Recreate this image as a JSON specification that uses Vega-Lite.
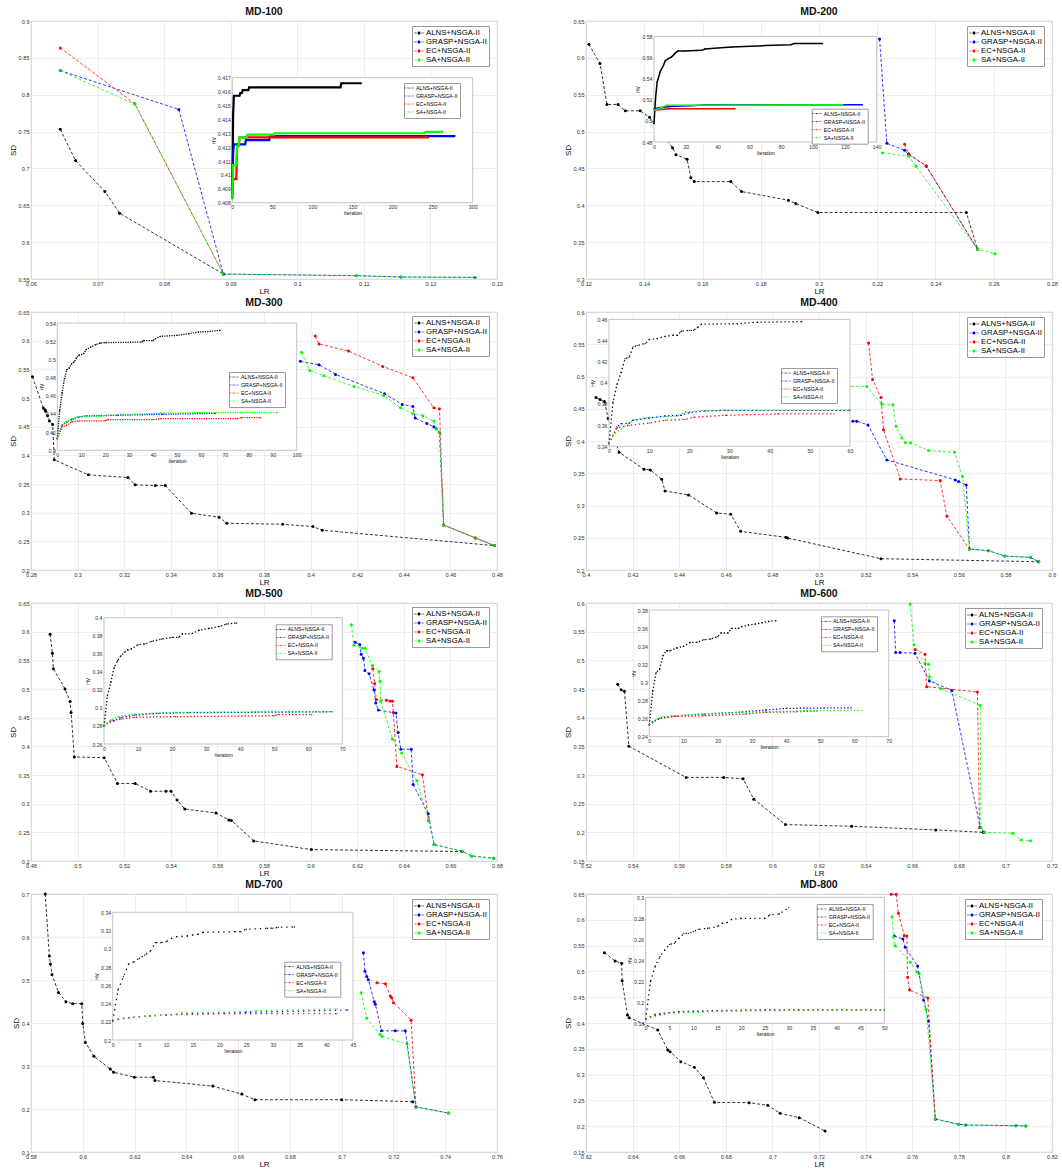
{
  "$schema": "https://vega.github.io/schema/vega-lite/v6.json",
  "padding": {"left": 8, "top": 6, "right": 5, "bottom": 5},
  "background": "#ffffff",
  "columns": 2,
  "spacing": {"row": 33, "column": 89},
  "bounds": "flush",
  "resolve": {"scale": {"color": "independent"}, "legend": {"color": "independent"}},
  "config": {
    "font": "Liberation Sans",
    "view": {"stroke": "#b4b4b4", "strokeWidth": 0.8},
    "axis": {"labelFontSize": 5.6, "labelColor": "#333333", "titleFontSize": 8, "titleFontWeight": "normal", "titleColor": "#111111", "gridColor": "#e2e2e2", "gridWidth": 0.6, "domain": false, "ticks": false, "labelPadding": 2, "titlePadding": 1, "labelFlush": false, "labelOverlap": false},
    "title": {"fontSize": 10.5, "fontWeight": "bold", "offset": 2, "color": "#111111", "frame": "group"},
    "legend": {"labelFontSize": 7.8, "labelColor": "#000000", "symbolType": "M-1,-0.05H-0.45V0.05H-1ZM0.45,-0.05H1V0.05H0.45ZM-0.3,0A0.3,0.3,0,1,1,0.3,0A0.3,0.3,0,1,1,-0.3,0Z", "symbolSize": 100, "symbolStrokeWidth": 0, "symbolOpacity": 1, "padding": 2, "rowPadding": 0, "labelOffset": 2, "strokeColor": "#9a9a9a", "fillColor": "#ffffff"}
  },
  "concat": [
    {
      "title": "MD-100",
      "width": 466, "height": 258,
      "layer": [
        {
          "data": {"values": [
            {"s": "ALNS+NSGA-II", "LR": 0.0644, "SD": 0.753}, {"s": "ALNS+NSGA-II", "LR": 0.0667, "SD": 0.7106}, {"s": "ALNS+NSGA-II", "LR": 0.0711, "SD": 0.6686}, {"s": "ALNS+NSGA-II", "LR": 0.0733, "SD": 0.6393}, {"s": "ALNS+NSGA-II", "LR": 0.0889, "SD": 0.5567},
            {"s": "GRASP+NSGA-II", "LR": 0.0644, "SD": 0.8328}, {"s": "GRASP+NSGA-II", "LR": 0.0822, "SD": 0.78}, {"s": "GRASP+NSGA-II", "LR": 0.0889, "SD": 0.5567}, {"s": "GRASP+NSGA-II", "LR": 0.1089, "SD": 0.5545}, {"s": "GRASP+NSGA-II", "LR": 0.1156, "SD": 0.5527}, {"s": "GRASP+NSGA-II", "LR": 0.1267, "SD": 0.5522},
            {"s": "EC+NSGA-II", "LR": 0.0644, "SD": 0.8635}, {"s": "EC+NSGA-II", "LR": 0.0756, "SD": 0.7877}, {"s": "EC+NSGA-II", "LR": 0.0889, "SD": 0.5567},
            {"s": "SA+NSGA-II", "LR": 0.0644, "SD": 0.8328}, {"s": "SA+NSGA-II", "LR": 0.0756, "SD": 0.787}, {"s": "SA+NSGA-II", "LR": 0.0889, "SD": 0.5567}, {"s": "SA+NSGA-II", "LR": 0.1089, "SD": 0.5545}, {"s": "SA+NSGA-II", "LR": 0.1156, "SD": 0.5527}, {"s": "SA+NSGA-II", "LR": 0.1267, "SD": 0.5522}
          ]},
          "layer": [
            {"mark": {"type": "point", "filled": true, "size": 9, "opacity": 1},
             "encoding": {
               "x": {"field": "LR", "type": "quantitative", "scale": {"domain": [0.06, 0.13], "nice": false, "zero": false}, "axis": {"orient": "bottom", "title": "LR", "format": "~g", "tickCount": 30, "values": [0.06, 0.07, 0.08, 0.09, 0.1, 0.11, 0.12, 0.13]}},
               "y": {"field": "SD", "type": "quantitative", "scale": {"domain": [0.55, 0.9], "nice": false, "zero": false}, "axis": {"orient": "left", "title": "SD", "format": "~g", "tickCount": 30, "values": [0.55, 0.6, 0.65, 0.7, 0.75, 0.8, 0.85, 0.9]}},
               "color": {"field": "s", "type": "nominal", "scale": {"domain": ["ALNS+NSGA-II", "GRASP+NSGA-II", "EC+NSGA-II", "SA+NSGA-II"], "range": ["#000000", "#0000ff", "#ff0000", "#00ff00"]}, "legend": {"title": null, "orient": "none", "legendX": 381, "legendY": 5, "encode": {"symbols": {"update": {"strokeWidth": {"value": 0}, "opacity": {"value": 1}}}}}}
             }},
            {"mark": {"type": "line", "strokeWidth": 0.8, "strokeDash": [3, 2]},
             "encoding": {
               "x": {"field": "LR", "type": "quantitative"},
               "y": {"field": "SD", "type": "quantitative"},
               "color": {"field": "s", "type": "nominal", "scale": {"domain": ["ALNS+NSGA-II", "GRASP+NSGA-II", "EC+NSGA-II", "SA+NSGA-II"], "range": ["#000000", "#0000ff", "#ff0000", "#00ff00"]}, "legend": {"title": null, "orient": "none", "legendX": 381, "legendY": 5, "encode": {"symbols": {"update": {"strokeWidth": {"value": 0}, "opacity": {"value": 1}}}}}},
               "order": {"value": null}
             }}
          ]
        },
        {
          "layer": [
            {"data": {"values": [{}]}, "mark": {"type": "rect", "fill": "#ffffff", "stroke": "#b4b4b4", "strokeWidth": 0.8},
             "encoding": {"x": {"datum": 0}, "x2": {"datum": 300}, "y": {"datum": 0.408}, "y2": {"datum": 0.417}}},
            {"data": {"values": [
              {"s": "ALNS+NSGA-II", "it": 0, "HV": 0.4083}, {"s": "ALNS+NSGA-II", "it": 1, "HV": 0.4143}, {"s": "ALNS+NSGA-II", "it": 2, "HV": 0.4157}, {"s": "ALNS+NSGA-II", "it": 9, "HV": 0.4157}, {"s": "ALNS+NSGA-II", "it": 10, "HV": 0.4159}, {"s": "ALNS+NSGA-II", "it": 12, "HV": 0.4159}, {"s": "ALNS+NSGA-II", "it": 13, "HV": 0.4161}, {"s": "ALNS+NSGA-II", "it": 20, "HV": 0.4161}, {"s": "ALNS+NSGA-II", "it": 21, "HV": 0.4163}, {"s": "ALNS+NSGA-II", "it": 135, "HV": 0.4163}, {"s": "ALNS+NSGA-II", "it": 136, "HV": 0.4166}, {"s": "ALNS+NSGA-II", "it": 161, "HV": 0.4166},
              {"s": "GRASP+NSGA-II", "it": 0, "HV": 0.4091}, {"s": "GRASP+NSGA-II", "it": 1, "HV": 0.4116}, {"s": "GRASP+NSGA-II", "it": 2, "HV": 0.4122}, {"s": "GRASP+NSGA-II", "it": 16, "HV": 0.4122}, {"s": "GRASP+NSGA-II", "it": 17, "HV": 0.4125}, {"s": "GRASP+NSGA-II", "it": 46, "HV": 0.4125}, {"s": "GRASP+NSGA-II", "it": 47, "HV": 0.4128}, {"s": "GRASP+NSGA-II", "it": 278, "HV": 0.4128},
              {"s": "EC+NSGA-II", "it": 0, "HV": 0.4089}, {"s": "EC+NSGA-II", "it": 1, "HV": 0.4097}, {"s": "EC+NSGA-II", "it": 5, "HV": 0.4097}, {"s": "EC+NSGA-II", "it": 6, "HV": 0.4121}, {"s": "EC+NSGA-II", "it": 8, "HV": 0.4121}, {"s": "EC+NSGA-II", "it": 9, "HV": 0.4127}, {"s": "EC+NSGA-II", "it": 245, "HV": 0.4127},
              {"s": "SA+NSGA-II", "it": 0, "HV": 0.4083}, {"s": "SA+NSGA-II", "it": 1, "HV": 0.4107}, {"s": "SA+NSGA-II", "it": 5, "HV": 0.4107}, {"s": "SA+NSGA-II", "it": 6, "HV": 0.4121}, {"s": "SA+NSGA-II", "it": 8, "HV": 0.4121}, {"s": "SA+NSGA-II", "it": 9, "HV": 0.4127}, {"s": "SA+NSGA-II", "it": 18, "HV": 0.4127}, {"s": "SA+NSGA-II", "it": 19, "HV": 0.4129}, {"s": "SA+NSGA-II", "it": 52, "HV": 0.4129}, {"s": "SA+NSGA-II", "it": 53, "HV": 0.413}, {"s": "SA+NSGA-II", "it": 240, "HV": 0.413}, {"s": "SA+NSGA-II", "it": 241, "HV": 0.4131}, {"s": "SA+NSGA-II", "it": 263, "HV": 0.4131}
            ]},
             "layer": [
               {"mark": {"type": "point", "filled": true, "size": 1.8, "opacity": 1},
                "encoding": {
                  "x": {"field": "it", "type": "quantitative", "scale": {"domain": [0, 300], "range": [201.3, 441.7], "nice": false, "zero": false}, "axis": {"orient": "bottom", "offset": -76.3, "title": "Iteration", "tickCount": 30, "values": [0, 50, 100, 150, 200, 250, 300], "labelFontSize": 5.2, "titleFontSize": 5, "titlePadding": 1, "gridColor": "#d6d6d6", "zindex": 1}},
                  "y": {"field": "HV", "type": "quantitative", "scale": {"domain": [0.408, 0.417], "range": [181.7, 56.7], "nice": false, "zero": false}, "axis": {"orient": "left", "offset": -201.3, "title": "HV", "format": "~g", "tickCount": 30, "values": [0.408, 0.409, 0.41, 0.411, 0.412, 0.413, 0.414, 0.415, 0.416, 0.417], "labelFontSize": 5.2, "titleFontSize": 5, "titlePadding": 1, "gridColor": "#d6d6d6", "zindex": 1}},
                  "color": {"field": "s", "type": "nominal", "scale": {"domain": ["ALNS+NSGA-II", "GRASP+NSGA-II", "EC+NSGA-II", "SA+NSGA-II"], "range": ["#000000", "#0000ff", "#ff0000", "#00ff00"]}, "legend": {"title": null, "orient": "none", "legendX": 373, "legendY": 62, "labelFontSize": 5.3, "symbolSize": 36, "labelOffset": 4, "rowPadding": 1, "symbolType": "M-1.6,-0.07H-0.9V0.07H-1.6ZM-0.6,-0.07H-0.3V0.07H-0.6ZM0.3,-0.07H0.6V0.07H0.3ZM0.9,-0.07H1.6V0.07H0.9ZM-0.2,0A0.2,0.2,0,1,1,0.2,0A0.2,0.2,0,1,1,-0.2,0Z", "encode": {"symbols": {"update": {"strokeWidth": {"value": 0}, "opacity": {"value": 1}}}}}}
                }},
               {"mark": {"type": "line", "strokeWidth": 2.2},
                "encoding": {
                  "x": {"field": "it", "type": "quantitative"},
                  "y": {"field": "HV", "type": "quantitative"},
                  "color": {"field": "s", "type": "nominal", "scale": {"domain": ["ALNS+NSGA-II", "GRASP+NSGA-II", "EC+NSGA-II", "SA+NSGA-II"], "range": ["#000000", "#0000ff", "#ff0000", "#00ff00"]}, "legend": {"title": null, "orient": "none", "legendX": 373, "legendY": 62, "labelFontSize": 5.3, "symbolSize": 36, "labelOffset": 4, "rowPadding": 1, "symbolType": "M-1.6,-0.07H-0.9V0.07H-1.6ZM-0.6,-0.07H-0.3V0.07H-0.6ZM0.3,-0.07H0.6V0.07H0.3ZM0.9,-0.07H1.6V0.07H0.9ZM-0.2,0A0.2,0.2,0,1,1,0.2,0A0.2,0.2,0,1,1,-0.2,0Z", "encode": {"symbols": {"update": {"strokeWidth": {"value": 0}, "opacity": {"value": 1}}}}}}
                }}
             ]}
          ]
        }
      ],
      "resolve": {"scale": {"x": "independent", "y": "independent", "color": "independent"}, "axis": {"x": "independent", "y": "independent"}, "legend": {"color": "independent"}}
    },
    {
      "title": "MD-200",
      "width": 466, "height": 258,
      "layer": [
        {
          "data": {"values": [
            {"s": "ALNS+NSGA-II", "LR": 0.121, "SD": 0.6184}, {"s": "ALNS+NSGA-II", "LR": 0.1248, "SD": 0.5923}, {"s": "ALNS+NSGA-II", "LR": 0.1272, "SD": 0.5368}, {"s": "ALNS+NSGA-II", "LR": 0.131, "SD": 0.5368}, {"s": "ALNS+NSGA-II", "LR": 0.1335, "SD": 0.5282}, {"s": "ALNS+NSGA-II", "LR": 0.1386, "SD": 0.5282}, {"s": "ALNS+NSGA-II", "LR": 0.1418, "SD": 0.5195}, {"s": "ALNS+NSGA-II", "LR": 0.1497, "SD": 0.4781}, {"s": "ALNS+NSGA-II", "LR": 0.1509, "SD": 0.4687}, {"s": "ALNS+NSGA-II", "LR": 0.1547, "SD": 0.4624}, {"s": "ALNS+NSGA-II", "LR": 0.156, "SD": 0.4375}, {"s": "ALNS+NSGA-II", "LR": 0.1572, "SD": 0.4321}, {"s": "ALNS+NSGA-II", "LR": 0.1697, "SD": 0.4321}, {"s": "ALNS+NSGA-II", "LR": 0.1734, "SD": 0.4186}, {"s": "ALNS+NSGA-II", "LR": 0.1895, "SD": 0.4069}, {"s": "ALNS+NSGA-II", "LR": 0.192, "SD": 0.4024}, {"s": "ALNS+NSGA-II", "LR": 0.1996, "SD": 0.3902}, {"s": "ALNS+NSGA-II", "LR": 0.2506, "SD": 0.3902}, {"s": "ALNS+NSGA-II", "LR": 0.2544, "SD": 0.3406},
            {"s": "GRASP+NSGA-II", "LR": 0.2208, "SD": 0.6256}, {"s": "GRASP+NSGA-II", "LR": 0.2233, "SD": 0.484}, {"s": "GRASP+NSGA-II", "LR": 0.2294, "SD": 0.4745}, {"s": "GRASP+NSGA-II", "LR": 0.2308, "SD": 0.4691}, {"s": "GRASP+NSGA-II", "LR": 0.2368, "SD": 0.4533}, {"s": "GRASP+NSGA-II", "LR": 0.2544, "SD": 0.3406},
            {"s": "EC+NSGA-II", "LR": 0.2294, "SD": 0.4827}, {"s": "EC+NSGA-II", "LR": 0.2308, "SD": 0.47}, {"s": "EC+NSGA-II", "LR": 0.2368, "SD": 0.4533}, {"s": "EC+NSGA-II", "LR": 0.2544, "SD": 0.3406},
            {"s": "SA+NSGA-II", "LR": 0.2218, "SD": 0.4714}, {"s": "SA+NSGA-II", "LR": 0.2308, "SD": 0.4664}, {"s": "SA+NSGA-II", "LR": 0.2333, "SD": 0.4529}, {"s": "SA+NSGA-II", "LR": 0.2544, "SD": 0.3406}, {"s": "SA+NSGA-II", "LR": 0.2605, "SD": 0.3342}
          ]},
          "layer": [
            {"mark": {"type": "point", "filled": true, "size": 9, "opacity": 1},
             "encoding": {
               "x": {"field": "LR", "type": "quantitative", "scale": {"domain": [0.12, 0.28], "nice": false, "zero": false}, "axis": {"orient": "bottom", "title": "LR", "format": "~g", "tickCount": 30, "values": [0.12, 0.14, 0.16, 0.18, 0.2, 0.22, 0.24, 0.26, 0.28]}},
               "y": {"field": "SD", "type": "quantitative", "scale": {"domain": [0.3, 0.65], "nice": false, "zero": false}, "axis": {"orient": "left", "title": "SD", "format": "~g", "tickCount": 30, "values": [0.3, 0.35, 0.4, 0.45, 0.5, 0.55, 0.6, 0.65]}},
               "color": {"field": "s", "type": "nominal", "scale": {"domain": ["ALNS+NSGA-II", "GRASP+NSGA-II", "EC+NSGA-II", "SA+NSGA-II"], "range": ["#000000", "#0000ff", "#ff0000", "#00ff00"]}, "legend": {"title": null, "orient": "none", "legendX": 381, "legendY": 5, "encode": {"symbols": {"update": {"strokeWidth": {"value": 0}, "opacity": {"value": 1}}}}}}
             }},
            {"mark": {"type": "line", "strokeWidth": 0.8, "strokeDash": [3, 2]},
             "encoding": {
               "x": {"field": "LR", "type": "quantitative"},
               "y": {"field": "SD", "type": "quantitative"},
               "color": {"field": "s", "type": "nominal", "scale": {"domain": ["ALNS+NSGA-II", "GRASP+NSGA-II", "EC+NSGA-II", "SA+NSGA-II"], "range": ["#000000", "#0000ff", "#ff0000", "#00ff00"]}, "legend": {"title": null, "orient": "none", "legendX": 381, "legendY": 5, "encode": {"symbols": {"update": {"strokeWidth": {"value": 0}, "opacity": {"value": 1}}}}}},
               "order": {"value": null}
             }}
          ]
        },
        {
          "layer": [
            {"data": {"values": [{}]}, "mark": {"type": "rect", "fill": "#ffffff", "stroke": "#b4b4b4", "strokeWidth": 0.8},
             "encoding": {"x": {"datum": 0}, "x2": {"datum": 140}, "y": {"datum": 0.48}, "y2": {"datum": 0.58}}},
            {"data": {"values": [
              {"s": "ALNS+NSGA-II", "it": 0, "HV": 0.4973}, {"s": "ALNS+NSGA-II", "it": 1, "HV": 0.522}, {"s": "ALNS+NSGA-II", "it": 2, "HV": 0.5368}, {"s": "ALNS+NSGA-II", "it": 4, "HV": 0.5469}, {"s": "ALNS+NSGA-II", "it": 6, "HV": 0.5526}, {"s": "ALNS+NSGA-II", "it": 7, "HV": 0.5567}, {"s": "ALNS+NSGA-II", "it": 9, "HV": 0.5589}, {"s": "ALNS+NSGA-II", "it": 11, "HV": 0.5604}, {"s": "ALNS+NSGA-II", "it": 13, "HV": 0.5636}, {"s": "ALNS+NSGA-II", "it": 15, "HV": 0.5661}, {"s": "ALNS+NSGA-II", "it": 19, "HV": 0.5661}, {"s": "ALNS+NSGA-II", "it": 30, "HV": 0.5667}, {"s": "ALNS+NSGA-II", "it": 32, "HV": 0.568}, {"s": "ALNS+NSGA-II", "it": 38, "HV": 0.5686}, {"s": "ALNS+NSGA-II", "it": 49, "HV": 0.5699}, {"s": "ALNS+NSGA-II", "it": 61, "HV": 0.5705}, {"s": "ALNS+NSGA-II", "it": 70, "HV": 0.5712}, {"s": "ALNS+NSGA-II", "it": 86, "HV": 0.5721}, {"s": "ALNS+NSGA-II", "it": 88, "HV": 0.5731}, {"s": "ALNS+NSGA-II", "it": 106, "HV": 0.5731},
              {"s": "GRASP+NSGA-II", "it": 0, "HV": 0.5112}, {"s": "GRASP+NSGA-II", "it": 3, "HV": 0.5125}, {"s": "GRASP+NSGA-II", "it": 7, "HV": 0.5131}, {"s": "GRASP+NSGA-II", "it": 13, "HV": 0.5138}, {"s": "GRASP+NSGA-II", "it": 23, "HV": 0.5144}, {"s": "GRASP+NSGA-II", "it": 34, "HV": 0.5153}, {"s": "GRASP+NSGA-II", "it": 131, "HV": 0.5153},
              {"s": "EC+NSGA-II", "it": 0, "HV": 0.51}, {"s": "EC+NSGA-II", "it": 3, "HV": 0.5105}, {"s": "EC+NSGA-II", "it": 9, "HV": 0.5115}, {"s": "EC+NSGA-II", "it": 51, "HV": 0.5115},
              {"s": "SA+NSGA-II", "it": 0, "HV": 0.51}, {"s": "SA+NSGA-II", "it": 3, "HV": 0.5115}, {"s": "SA+NSGA-II", "it": 8, "HV": 0.5147}, {"s": "SA+NSGA-II", "it": 119, "HV": 0.5153}
            ]},
             "layer": [
               {"mark": {"type": "point", "filled": true, "size": 1.8, "opacity": 1},
                "encoding": {
                  "x": {"field": "it", "type": "quantitative", "scale": {"domain": [0, 140], "range": [68, 290.7], "nice": false, "zero": false}, "axis": {"orient": "bottom", "offset": -137, "title": "Iteration", "tickCount": 30, "values": [0, 20, 40, 60, 80, 100, 120, 140], "labelFontSize": 5.2, "titleFontSize": 5, "titlePadding": 1, "gridColor": "#d6d6d6", "zindex": 1}},
                  "y": {"field": "HV", "type": "quantitative", "scale": {"domain": [0.48, 0.58], "range": [121, 15.3], "nice": false, "zero": false}, "axis": {"orient": "left", "offset": -68, "title": "HV", "format": "~g", "tickCount": 30, "values": [0.48, 0.5, 0.52, 0.54, 0.56, 0.58], "labelFontSize": 5.2, "titleFontSize": 5, "titlePadding": 1, "gridColor": "#d6d6d6", "zindex": 1}},
                  "color": {"field": "s", "type": "nominal", "scale": {"domain": ["ALNS+NSGA-II", "GRASP+NSGA-II", "EC+NSGA-II", "SA+NSGA-II"], "range": ["#000000", "#0000ff", "#ff0000", "#00ff00"]}, "legend": {"title": null, "orient": "none", "legendX": 225.7, "legendY": 87.7, "labelFontSize": 5.3, "symbolSize": 36, "labelOffset": 4, "rowPadding": 1, "symbolType": "M-1.6,-0.07H-0.9V0.07H-1.6ZM-0.6,-0.07H-0.3V0.07H-0.6ZM0.3,-0.07H0.6V0.07H0.3ZM0.9,-0.07H1.6V0.07H0.9ZM-0.2,0A0.2,0.2,0,1,1,0.2,0A0.2,0.2,0,1,1,-0.2,0Z", "encode": {"symbols": {"update": {"strokeWidth": {"value": 0}, "opacity": {"value": 1}}}}}}
                }},
               {"mark": {"type": "line", "strokeWidth": 1.5},
                "encoding": {
                  "x": {"field": "it", "type": "quantitative"},
                  "y": {"field": "HV", "type": "quantitative"},
                  "color": {"field": "s", "type": "nominal", "scale": {"domain": ["ALNS+NSGA-II", "GRASP+NSGA-II", "EC+NSGA-II", "SA+NSGA-II"], "range": ["#000000", "#0000ff", "#ff0000", "#00ff00"]}, "legend": {"title": null, "orient": "none", "legendX": 225.7, "legendY": 87.7, "labelFontSize": 5.3, "symbolSize": 36, "labelOffset": 4, "rowPadding": 1, "symbolType": "M-1.6,-0.07H-0.9V0.07H-1.6ZM-0.6,-0.07H-0.3V0.07H-0.6ZM0.3,-0.07H0.6V0.07H0.3ZM0.9,-0.07H1.6V0.07H0.9ZM-0.2,0A0.2,0.2,0,1,1,0.2,0A0.2,0.2,0,1,1,-0.2,0Z", "encode": {"symbols": {"update": {"strokeWidth": {"value": 0}, "opacity": {"value": 1}}}}}}
                }}
             ]}
          ]
        }
      ],
      "resolve": {"scale": {"x": "independent", "y": "independent", "color": "independent"}, "axis": {"x": "independent", "y": "independent"}, "legend": {"color": "independent"}}
    },
    {
      "title": "MD-300",
      "width": 466, "height": 258,
      "layer": [
        {
          "data": {"values": [
            {"s": "ALNS+NSGA-II", "LR": 0.2806, "SD": 0.5371}, {"s": "ALNS+NSGA-II", "LR": 0.2853, "SD": 0.4824}, {"s": "ALNS+NSGA-II", "LR": 0.286, "SD": 0.4795}, {"s": "ALNS+NSGA-II", "LR": 0.2863, "SD": 0.4771}, {"s": "ALNS+NSGA-II", "LR": 0.2871, "SD": 0.469}, {"s": "ALNS+NSGA-II", "LR": 0.2879, "SD": 0.4597}, {"s": "ALNS+NSGA-II", "LR": 0.2893, "SD": 0.4538}, {"s": "ALNS+NSGA-II", "LR": 0.29, "SD": 0.3921}, {"s": "ALNS+NSGA-II", "LR": 0.3046, "SD": 0.366}, {"s": "ALNS+NSGA-II", "LR": 0.3216, "SD": 0.3613}, {"s": "ALNS+NSGA-II", "LR": 0.3247, "SD": 0.3485}, {"s": "ALNS+NSGA-II", "LR": 0.3334, "SD": 0.3473}, {"s": "ALNS+NSGA-II", "LR": 0.3376, "SD": 0.3473}, {"s": "ALNS+NSGA-II", "LR": 0.3489, "SD": 0.299}, {"s": "ALNS+NSGA-II", "LR": 0.3607, "SD": 0.292}, {"s": "ALNS+NSGA-II", "LR": 0.364, "SD": 0.2816}, {"s": "ALNS+NSGA-II", "LR": 0.388, "SD": 0.2798}, {"s": "ALNS+NSGA-II", "LR": 0.401, "SD": 0.2757}, {"s": "ALNS+NSGA-II", "LR": 0.405, "SD": 0.2693}, {"s": "ALNS+NSGA-II", "LR": 0.4789, "SD": 0.2426},
            {"s": "GRASP+NSGA-II", "LR": 0.3956, "SD": 0.5639}, {"s": "GRASP+NSGA-II", "LR": 0.4036, "SD": 0.558}, {"s": "GRASP+NSGA-II", "LR": 0.4107, "SD": 0.5412}, {"s": "GRASP+NSGA-II", "LR": 0.4317, "SD": 0.5074}, {"s": "GRASP+NSGA-II", "LR": 0.4393, "SD": 0.4888}, {"s": "GRASP+NSGA-II", "LR": 0.4439, "SD": 0.4853}, {"s": "GRASP+NSGA-II", "LR": 0.4449, "SD": 0.4649}, {"s": "GRASP+NSGA-II", "LR": 0.4499, "SD": 0.4556}, {"s": "GRASP+NSGA-II", "LR": 0.4529, "SD": 0.4498}, {"s": "GRASP+NSGA-II", "LR": 0.4539, "SD": 0.4463}, {"s": "GRASP+NSGA-II", "LR": 0.4553, "SD": 0.4399}, {"s": "GRASP+NSGA-II", "LR": 0.4571, "SD": 0.2786}, {"s": "GRASP+NSGA-II", "LR": 0.4707, "SD": 0.2559}, {"s": "GRASP+NSGA-II", "LR": 0.4789, "SD": 0.2426},
            {"s": "EC+NSGA-II", "LR": 0.402, "SD": 0.6081}, {"s": "EC+NSGA-II", "LR": 0.4036, "SD": 0.5941}, {"s": "EC+NSGA-II", "LR": 0.4163, "SD": 0.5819}, {"s": "EC+NSGA-II", "LR": 0.431, "SD": 0.5551}, {"s": "EC+NSGA-II", "LR": 0.4439, "SD": 0.5353}, {"s": "EC+NSGA-II", "LR": 0.4529, "SD": 0.4829}, {"s": "EC+NSGA-II", "LR": 0.4553, "SD": 0.4812}, {"s": "EC+NSGA-II", "LR": 0.4571, "SD": 0.2786}, {"s": "EC+NSGA-II", "LR": 0.4707, "SD": 0.2559}, {"s": "EC+NSGA-II", "LR": 0.4789, "SD": 0.2426},
            {"s": "SA+NSGA-II", "LR": 0.3961, "SD": 0.5796}, {"s": "SA+NSGA-II", "LR": 0.3996, "SD": 0.5481}, {"s": "SA+NSGA-II", "LR": 0.4057, "SD": 0.5388}, {"s": "SA+NSGA-II", "LR": 0.4187, "SD": 0.5202}, {"s": "SA+NSGA-II", "LR": 0.4314, "SD": 0.5045}, {"s": "SA+NSGA-II", "LR": 0.4386, "SD": 0.4829}, {"s": "SA+NSGA-II", "LR": 0.4439, "SD": 0.473}, {"s": "SA+NSGA-II", "LR": 0.4481, "SD": 0.469}, {"s": "SA+NSGA-II", "LR": 0.4529, "SD": 0.4597}, {"s": "SA+NSGA-II", "LR": 0.4539, "SD": 0.4463}, {"s": "SA+NSGA-II", "LR": 0.4553, "SD": 0.4399}, {"s": "SA+NSGA-II", "LR": 0.4571, "SD": 0.2786}, {"s": "SA+NSGA-II", "LR": 0.4707, "SD": 0.2559}, {"s": "SA+NSGA-II", "LR": 0.4789, "SD": 0.2426}
          ]},
          "layer": [
            {"mark": {"type": "point", "filled": true, "size": 9, "opacity": 1},
             "encoding": {
               "x": {"field": "LR", "type": "quantitative", "scale": {"domain": [0.28, 0.48], "nice": false, "zero": false}, "axis": {"orient": "bottom", "title": "LR", "format": "~g", "tickCount": 30, "values": [0.28, 0.3, 0.32, 0.34, 0.36, 0.38, 0.4, 0.42, 0.44, 0.46, 0.48]}},
               "y": {"field": "SD", "type": "quantitative", "scale": {"domain": [0.2, 0.65], "nice": false, "zero": false}, "axis": {"orient": "left", "title": "SD", "format": "~g", "tickCount": 30, "values": [0.2, 0.25, 0.3, 0.35, 0.4, 0.45, 0.5, 0.55, 0.6, 0.65]}},
               "color": {"field": "s", "type": "nominal", "scale": {"domain": ["ALNS+NSGA-II", "GRASP+NSGA-II", "EC+NSGA-II", "SA+NSGA-II"], "range": ["#000000", "#0000ff", "#ff0000", "#00ff00"]}, "legend": {"title": null, "orient": "none", "legendX": 381, "legendY": 4, "encode": {"symbols": {"update": {"strokeWidth": {"value": 0}, "opacity": {"value": 1}}}}}}
             }},
            {"mark": {"type": "line", "strokeWidth": 0.8, "strokeDash": [3, 2]},
             "encoding": {
               "x": {"field": "LR", "type": "quantitative"},
               "y": {"field": "SD", "type": "quantitative"},
               "color": {"field": "s", "type": "nominal", "scale": {"domain": ["ALNS+NSGA-II", "GRASP+NSGA-II", "EC+NSGA-II", "SA+NSGA-II"], "range": ["#000000", "#0000ff", "#ff0000", "#00ff00"]}, "legend": {"title": null, "orient": "none", "legendX": 381, "legendY": 4, "encode": {"symbols": {"update": {"strokeWidth": {"value": 0}, "opacity": {"value": 1}}}}}},
               "order": {"value": null}
             }}
          ]
        },
        {
          "layer": [
            {"data": {"values": [{}]}, "mark": {"type": "rect", "fill": "#ffffff", "stroke": "#b4b4b4", "strokeWidth": 0.8},
             "encoding": {"x": {"datum": 0}, "x2": {"datum": 100}, "y": {"datum": 0.4}, "y2": {"datum": 0.54}}},
            {"data": {"values": [
              {"s": "ALNS+NSGA-II", "it": 0, "HV": 0.4128}, {"s": "ALNS+NSGA-II", "it": 1, "HV": 0.444}, {"s": "ALNS+NSGA-II", "it": 2, "HV": 0.463}, {"s": "ALNS+NSGA-II", "it": 3, "HV": 0.4788}, {"s": "ALNS+NSGA-II", "it": 4, "HV": 0.4887}, {"s": "ALNS+NSGA-II", "it": 5, "HV": 0.4905}, {"s": "ALNS+NSGA-II", "it": 6, "HV": 0.4953}, {"s": "ALNS+NSGA-II", "it": 7, "HV": 0.4971}, {"s": "ALNS+NSGA-II", "it": 8, "HV": 0.5015}, {"s": "ALNS+NSGA-II", "it": 9, "HV": 0.5045}, {"s": "ALNS+NSGA-II", "it": 11, "HV": 0.5063}, {"s": "ALNS+NSGA-II", "it": 12, "HV": 0.5107}, {"s": "ALNS+NSGA-II", "it": 14, "HV": 0.5136}, {"s": "ALNS+NSGA-II", "it": 16, "HV": 0.5162}, {"s": "ALNS+NSGA-II", "it": 18, "HV": 0.518}, {"s": "ALNS+NSGA-II", "it": 20, "HV": 0.5184}, {"s": "ALNS+NSGA-II", "it": 35, "HV": 0.519}, {"s": "ALNS+NSGA-II", "it": 36, "HV": 0.5206}, {"s": "ALNS+NSGA-II", "it": 40, "HV": 0.5206}, {"s": "ALNS+NSGA-II", "it": 41, "HV": 0.5228}, {"s": "ALNS+NSGA-II", "it": 43, "HV": 0.5253}, {"s": "ALNS+NSGA-II", "it": 50, "HV": 0.5264}, {"s": "ALNS+NSGA-II", "it": 55, "HV": 0.5283}, {"s": "ALNS+NSGA-II", "it": 59, "HV": 0.5301}, {"s": "ALNS+NSGA-II", "it": 64, "HV": 0.5308}, {"s": "ALNS+NSGA-II", "it": 68, "HV": 0.5319},
              {"s": "GRASP+NSGA-II", "it": 0, "HV": 0.4128}, {"s": "GRASP+NSGA-II", "it": 2, "HV": 0.4275}, {"s": "GRASP+NSGA-II", "it": 4, "HV": 0.4312}, {"s": "GRASP+NSGA-II", "it": 6, "HV": 0.4337}, {"s": "GRASP+NSGA-II", "it": 9, "HV": 0.4367}, {"s": "GRASP+NSGA-II", "it": 12, "HV": 0.4378}, {"s": "GRASP+NSGA-II", "it": 25, "HV": 0.4385}, {"s": "GRASP+NSGA-II", "it": 44, "HV": 0.4396}, {"s": "GRASP+NSGA-II", "it": 66, "HV": 0.4407},
              {"s": "EC+NSGA-II", "it": 0, "HV": 0.4128}, {"s": "EC+NSGA-II", "it": 2, "HV": 0.4257}, {"s": "EC+NSGA-II", "it": 4, "HV": 0.4275}, {"s": "EC+NSGA-II", "it": 6, "HV": 0.4312}, {"s": "EC+NSGA-II", "it": 9, "HV": 0.4323}, {"s": "EC+NSGA-II", "it": 20, "HV": 0.4323}, {"s": "EC+NSGA-II", "it": 21, "HV": 0.4337}, {"s": "EC+NSGA-II", "it": 40, "HV": 0.4337}, {"s": "EC+NSGA-II", "it": 43, "HV": 0.4348}, {"s": "EC+NSGA-II", "it": 75, "HV": 0.4348}, {"s": "EC+NSGA-II", "it": 77, "HV": 0.4359}, {"s": "EC+NSGA-II", "it": 85, "HV": 0.4359},
              {"s": "SA+NSGA-II", "it": 0, "HV": 0.4128}, {"s": "SA+NSGA-II", "it": 2, "HV": 0.4282}, {"s": "SA+NSGA-II", "it": 4, "HV": 0.4319}, {"s": "SA+NSGA-II", "it": 6, "HV": 0.4348}, {"s": "SA+NSGA-II", "it": 9, "HV": 0.4367}, {"s": "SA+NSGA-II", "it": 18, "HV": 0.4378}, {"s": "SA+NSGA-II", "it": 27, "HV": 0.4392}, {"s": "SA+NSGA-II", "it": 43, "HV": 0.4407}, {"s": "SA+NSGA-II", "it": 60, "HV": 0.4414}, {"s": "SA+NSGA-II", "it": 92, "HV": 0.4414}
            ]},
             "layer": [
               {"mark": {"type": "point", "filled": true, "size": 1.8, "opacity": 1},
                "encoding": {
                  "x": {"field": "it", "type": "quantitative", "scale": {"domain": [0, 100], "range": [26.3, 265.7], "nice": false, "zero": false}, "axis": {"orient": "bottom", "offset": -119.7, "title": "Iteration", "tickCount": 30, "values": [0, 10, 20, 30, 40, 50, 60, 70, 80, 90, 100], "labelFontSize": 5.2, "titleFontSize": 5, "titlePadding": 1, "gridColor": "#d6d6d6", "zindex": 1}},
                  "y": {"field": "HV", "type": "quantitative", "scale": {"domain": [0.4, 0.54], "range": [138.3, 11], "nice": false, "zero": false}, "axis": {"orient": "left", "offset": -26.3, "title": "HV", "format": "~g", "tickCount": 30, "values": [0.4, 0.42, 0.44, 0.46, 0.48, 0.5, 0.52, 0.54], "labelFontSize": 5.2, "titleFontSize": 5, "titlePadding": 1, "gridColor": "#d6d6d6", "zindex": 1}},
                  "color": {"field": "s", "type": "nominal", "scale": {"domain": ["ALNS+NSGA-II", "GRASP+NSGA-II", "EC+NSGA-II", "SA+NSGA-II"], "range": ["#000000", "#0000ff", "#ff0000", "#00ff00"]}, "legend": {"title": null, "orient": "none", "legendX": 198, "legendY": 60, "labelFontSize": 5.3, "symbolSize": 36, "labelOffset": 4, "rowPadding": 1, "symbolType": "M-1.6,-0.07H-0.9V0.07H-1.6ZM-0.6,-0.07H-0.3V0.07H-0.6ZM0.3,-0.07H0.6V0.07H0.3ZM0.9,-0.07H1.6V0.07H0.9ZM-0.2,0A0.2,0.2,0,1,1,0.2,0A0.2,0.2,0,1,1,-0.2,0Z", "encode": {"symbols": {"update": {"strokeWidth": {"value": 0}, "opacity": {"value": 1}}}}}}
                }},
               {"mark": {"type": "line", "strokeWidth": 1.3, "strokeDash": [1.2, 1.2]},
                "encoding": {
                  "x": {"field": "it", "type": "quantitative"},
                  "y": {"field": "HV", "type": "quantitative"},
                  "color": {"field": "s", "type": "nominal", "scale": {"domain": ["ALNS+NSGA-II", "GRASP+NSGA-II", "EC+NSGA-II", "SA+NSGA-II"], "range": ["#000000", "#0000ff", "#ff0000", "#00ff00"]}, "legend": {"title": null, "orient": "none", "legendX": 198, "legendY": 60, "labelFontSize": 5.3, "symbolSize": 36, "labelOffset": 4, "rowPadding": 1, "symbolType": "M-1.6,-0.07H-0.9V0.07H-1.6ZM-0.6,-0.07H-0.3V0.07H-0.6ZM0.3,-0.07H0.6V0.07H0.3ZM0.9,-0.07H1.6V0.07H0.9ZM-0.2,0A0.2,0.2,0,1,1,0.2,0A0.2,0.2,0,1,1,-0.2,0Z", "encode": {"symbols": {"update": {"strokeWidth": {"value": 0}, "opacity": {"value": 1}}}}}}
                }}
             ]}
          ]
        }
      ],
      "resolve": {"scale": {"x": "independent", "y": "independent", "color": "independent"}, "axis": {"x": "independent", "y": "independent"}, "legend": {"color": "independent"}}
    },
    {
      "title": "MD-400",
      "width": 466, "height": 258,
      "layer": [
        {
          "data": {"values": [
            {"s": "ALNS+NSGA-II", "LR": 0.4043, "SD": 0.4675}, {"s": "ALNS+NSGA-II", "LR": 0.406, "SD": 0.4644}, {"s": "ALNS+NSGA-II", "LR": 0.4079, "SD": 0.4613}, {"s": "ALNS+NSGA-II", "LR": 0.4095, "SD": 0.435}, {"s": "ALNS+NSGA-II", "LR": 0.4142, "SD": 0.3826}, {"s": "ALNS+NSGA-II", "LR": 0.4249, "SD": 0.3562}, {"s": "ALNS+NSGA-II", "LR": 0.4276, "SD": 0.3552}, {"s": "ALNS+NSGA-II", "LR": 0.4325, "SD": 0.3407}, {"s": "ALNS+NSGA-II", "LR": 0.4339, "SD": 0.3226}, {"s": "ALNS+NSGA-II", "LR": 0.444, "SD": 0.3164}, {"s": "ALNS+NSGA-II", "LR": 0.4561, "SD": 0.2884}, {"s": "ALNS+NSGA-II", "LR": 0.4621, "SD": 0.2863}, {"s": "ALNS+NSGA-II", "LR": 0.4664, "SD": 0.2599}, {"s": "ALNS+NSGA-II", "LR": 0.4858, "SD": 0.2506}, {"s": "ALNS+NSGA-II", "LR": 0.4865, "SD": 0.2496}, {"s": "ALNS+NSGA-II", "LR": 0.5266, "SD": 0.2175}, {"s": "ALNS+NSGA-II", "LR": 0.5943, "SD": 0.2128},
            {"s": "GRASP+NSGA-II", "LR": 0.5145, "SD": 0.4307}, {"s": "GRASP+NSGA-II", "LR": 0.5162, "SD": 0.4307}, {"s": "GRASP+NSGA-II", "LR": 0.521, "SD": 0.425}, {"s": "GRASP+NSGA-II", "LR": 0.5291, "SD": 0.3707}, {"s": "GRASP+NSGA-II", "LR": 0.5585, "SD": 0.3397}, {"s": "GRASP+NSGA-II", "LR": 0.5599, "SD": 0.3371}, {"s": "GRASP+NSGA-II", "LR": 0.5632, "SD": 0.3319}, {"s": "GRASP+NSGA-II", "LR": 0.5646, "SD": 0.2325}, {"s": "GRASP+NSGA-II", "LR": 0.5728, "SD": 0.2299}, {"s": "GRASP+NSGA-II", "LR": 0.5797, "SD": 0.2216}, {"s": "GRASP+NSGA-II", "LR": 0.5907, "SD": 0.2196}, {"s": "GRASP+NSGA-II", "LR": 0.5943, "SD": 0.2128},
            {"s": "EC+NSGA-II", "LR": 0.5213, "SD": 0.5519}, {"s": "EC+NSGA-II", "LR": 0.523, "SD": 0.4954}, {"s": "EC+NSGA-II", "LR": 0.5266, "SD": 0.4675}, {"s": "EC+NSGA-II", "LR": 0.5277, "SD": 0.4173}, {"s": "EC+NSGA-II", "LR": 0.5349, "SD": 0.3412}, {"s": "EC+NSGA-II", "LR": 0.552, "SD": 0.3386}, {"s": "EC+NSGA-II", "LR": 0.5549, "SD": 0.2832}, {"s": "EC+NSGA-II", "LR": 0.5646, "SD": 0.2325},
            {"s": "SA+NSGA-II", "LR": 0.5072, "SD": 0.4846}, {"s": "SA+NSGA-II", "LR": 0.5205, "SD": 0.4846}, {"s": "SA+NSGA-II", "LR": 0.527, "SD": 0.4571}, {"s": "SA+NSGA-II", "LR": 0.5317, "SD": 0.4561}, {"s": "SA+NSGA-II", "LR": 0.5331, "SD": 0.4225}, {"s": "SA+NSGA-II", "LR": 0.5356, "SD": 0.4049}, {"s": "SA+NSGA-II", "LR": 0.537, "SD": 0.3976}, {"s": "SA+NSGA-II", "LR": 0.5394, "SD": 0.3971}, {"s": "SA+NSGA-II", "LR": 0.547, "SD": 0.3852}, {"s": "SA+NSGA-II", "LR": 0.5582, "SD": 0.3826}, {"s": "SA+NSGA-II", "LR": 0.5616, "SD": 0.3448}, {"s": "SA+NSGA-II", "LR": 0.5646, "SD": 0.2325}, {"s": "SA+NSGA-II", "LR": 0.5728, "SD": 0.2299}, {"s": "SA+NSGA-II", "LR": 0.5797, "SD": 0.2216}, {"s": "SA+NSGA-II", "LR": 0.5907, "SD": 0.2196}, {"s": "SA+NSGA-II", "LR": 0.5943, "SD": 0.2128}
          ]},
          "layer": [
            {"mark": {"type": "point", "filled": true, "size": 9, "opacity": 1},
             "encoding": {
               "x": {"field": "LR", "type": "quantitative", "scale": {"domain": [0.4, 0.6], "nice": false, "zero": false}, "axis": {"orient": "bottom", "title": "LR", "format": "~g", "tickCount": 30, "values": [0.4, 0.42, 0.44, 0.46, 0.48, 0.5, 0.52, 0.54, 0.56, 0.58, 0.6]}},
               "y": {"field": "SD", "type": "quantitative", "scale": {"domain": [0.2, 0.6], "nice": false, "zero": false}, "axis": {"orient": "left", "title": "SD", "format": "~g", "tickCount": 30, "values": [0.2, 0.25, 0.3, 0.35, 0.4, 0.45, 0.5, 0.55, 0.6]}},
               "color": {"field": "s", "type": "nominal", "scale": {"domain": ["ALNS+NSGA-II", "GRASP+NSGA-II", "EC+NSGA-II", "SA+NSGA-II"], "range": ["#000000", "#0000ff", "#ff0000", "#00ff00"]}, "legend": {"title": null, "orient": "none", "legendX": 381, "legendY": 5, "encode": {"symbols": {"update": {"strokeWidth": {"value": 0}, "opacity": {"value": 1}}}}}}
             }},
            {"mark": {"type": "line", "strokeWidth": 0.8, "strokeDash": [3, 2]},
             "encoding": {
               "x": {"field": "LR", "type": "quantitative"},
               "y": {"field": "SD", "type": "quantitative"},
               "color": {"field": "s", "type": "nominal", "scale": {"domain": ["ALNS+NSGA-II", "GRASP+NSGA-II", "EC+NSGA-II", "SA+NSGA-II"], "range": ["#000000", "#0000ff", "#ff0000", "#00ff00"]}, "legend": {"title": null, "orient": "none", "legendX": 381, "legendY": 5, "encode": {"symbols": {"update": {"strokeWidth": {"value": 0}, "opacity": {"value": 1}}}}}},
               "order": {"value": null}
             }}
          ]
        },
        {
          "layer": [
            {"data": {"values": [{}]}, "mark": {"type": "rect", "fill": "#ffffff", "stroke": "#b4b4b4", "strokeWidth": 0.8},
             "encoding": {"x": {"datum": 0}, "x2": {"datum": 60}, "y": {"datum": 0.34}, "y2": {"datum": 0.46}}},
            {"data": {"values": [
              {"s": "ALNS+NSGA-II", "it": 0, "HV": 0.3425}, {"s": "ALNS+NSGA-II", "it": 1, "HV": 0.3819}, {"s": "ALNS+NSGA-II", "it": 2, "HV": 0.3983}, {"s": "ALNS+NSGA-II", "it": 3, "HV": 0.4096}, {"s": "ALNS+NSGA-II", "it": 4, "HV": 0.4228}, {"s": "ALNS+NSGA-II", "it": 5, "HV": 0.4241}, {"s": "ALNS+NSGA-II", "it": 6, "HV": 0.4339}, {"s": "ALNS+NSGA-II", "it": 7, "HV": 0.4354}, {"s": "ALNS+NSGA-II", "it": 9, "HV": 0.437}, {"s": "ALNS+NSGA-II", "it": 10, "HV": 0.4408}, {"s": "ALNS+NSGA-II", "it": 12, "HV": 0.4417}, {"s": "ALNS+NSGA-II", "it": 14, "HV": 0.4439}, {"s": "ALNS+NSGA-II", "it": 16, "HV": 0.4449}, {"s": "ALNS+NSGA-II", "it": 17, "HV": 0.4449}, {"s": "ALNS+NSGA-II", "it": 18, "HV": 0.4487}, {"s": "ALNS+NSGA-II", "it": 20, "HV": 0.4496}, {"s": "ALNS+NSGA-II", "it": 21, "HV": 0.4496}, {"s": "ALNS+NSGA-II", "it": 22, "HV": 0.4521}, {"s": "ALNS+NSGA-II", "it": 23, "HV": 0.4553}, {"s": "ALNS+NSGA-II", "it": 32, "HV": 0.4559}, {"s": "ALNS+NSGA-II", "it": 37, "HV": 0.4572}, {"s": "ALNS+NSGA-II", "it": 48, "HV": 0.4578},
              {"s": "GRASP+NSGA-II", "it": 0, "HV": 0.3425}, {"s": "GRASP+NSGA-II", "it": 2, "HV": 0.3583}, {"s": "GRASP+NSGA-II", "it": 3, "HV": 0.3614}, {"s": "GRASP+NSGA-II", "it": 5, "HV": 0.3617}, {"s": "GRASP+NSGA-II", "it": 6, "HV": 0.3646}, {"s": "GRASP+NSGA-II", "it": 10, "HV": 0.3668}, {"s": "GRASP+NSGA-II", "it": 14, "HV": 0.3687}, {"s": "GRASP+NSGA-II", "it": 18, "HV": 0.3693}, {"s": "GRASP+NSGA-II", "it": 20, "HV": 0.3718}, {"s": "GRASP+NSGA-II", "it": 24, "HV": 0.3734}, {"s": "GRASP+NSGA-II", "it": 29, "HV": 0.374}, {"s": "GRASP+NSGA-II", "it": 60, "HV": 0.374},
              {"s": "EC+NSGA-II", "it": 0, "HV": 0.3425}, {"s": "EC+NSGA-II", "it": 2, "HV": 0.3576}, {"s": "EC+NSGA-II", "it": 5, "HV": 0.3598}, {"s": "EC+NSGA-II", "it": 10, "HV": 0.362}, {"s": "EC+NSGA-II", "it": 14, "HV": 0.3646}, {"s": "EC+NSGA-II", "it": 19, "HV": 0.3655}, {"s": "EC+NSGA-II", "it": 21, "HV": 0.3674}, {"s": "EC+NSGA-II", "it": 29, "HV": 0.3693}, {"s": "EC+NSGA-II", "it": 42, "HV": 0.3706}, {"s": "EC+NSGA-II", "it": 56, "HV": 0.3706},
              {"s": "SA+NSGA-II", "it": 0, "HV": 0.3425}, {"s": "SA+NSGA-II", "it": 1, "HV": 0.351}, {"s": "SA+NSGA-II", "it": 3, "HV": 0.3564}, {"s": "SA+NSGA-II", "it": 6, "HV": 0.3646}, {"s": "SA+NSGA-II", "it": 9, "HV": 0.3668}, {"s": "SA+NSGA-II", "it": 17, "HV": 0.3687}, {"s": "SA+NSGA-II", "it": 19, "HV": 0.3724}, {"s": "SA+NSGA-II", "it": 23, "HV": 0.374}, {"s": "SA+NSGA-II", "it": 60, "HV": 0.3743}
            ]},
             "layer": [
               {"mark": {"type": "point", "filled": true, "size": 1.8, "opacity": 1},
                "encoding": {
                  "x": {"field": "it", "type": "quantitative", "scale": {"domain": [0, 60], "range": [23, 264], "nice": false, "zero": false}, "axis": {"orient": "bottom", "offset": -123.7, "title": "Iteration", "tickCount": 30, "values": [0, 10, 20, 30, 40, 50, 60], "labelFontSize": 5.2, "titleFontSize": 5, "titlePadding": 1, "gridColor": "#d6d6d6", "zindex": 1}},
                  "y": {"field": "HV", "type": "quantitative", "scale": {"domain": [0.34, 0.46], "range": [134.3, 7.3], "nice": false, "zero": false}, "axis": {"orient": "left", "offset": -23, "title": "HV", "format": "~g", "tickCount": 30, "values": [0.34, 0.36, 0.38, 0.4, 0.42, 0.44, 0.46], "labelFontSize": 5.2, "titleFontSize": 5, "titlePadding": 1, "gridColor": "#d6d6d6", "zindex": 1}},
                  "color": {"field": "s", "type": "nominal", "scale": {"domain": ["ALNS+NSGA-II", "GRASP+NSGA-II", "EC+NSGA-II", "SA+NSGA-II"], "range": ["#000000", "#0000ff", "#ff0000", "#00ff00"]}, "legend": {"title": null, "orient": "none", "legendX": 195, "legendY": 56, "labelFontSize": 5.3, "symbolSize": 36, "labelOffset": 4, "rowPadding": 1, "symbolType": "M-1.6,-0.07H-0.9V0.07H-1.6ZM-0.6,-0.07H-0.3V0.07H-0.6ZM0.3,-0.07H0.6V0.07H0.3ZM0.9,-0.07H1.6V0.07H0.9ZM-0.2,0A0.2,0.2,0,1,1,0.2,0A0.2,0.2,0,1,1,-0.2,0Z", "encode": {"symbols": {"update": {"strokeWidth": {"value": 0}, "opacity": {"value": 1}}}}}}
                }},
               {"mark": {"type": "line", "strokeWidth": 1.3, "strokeDash": [1.3, 2.7]},
                "encoding": {
                  "x": {"field": "it", "type": "quantitative"},
                  "y": {"field": "HV", "type": "quantitative"},
                  "color": {"field": "s", "type": "nominal", "scale": {"domain": ["ALNS+NSGA-II", "GRASP+NSGA-II", "EC+NSGA-II", "SA+NSGA-II"], "range": ["#000000", "#0000ff", "#ff0000", "#00ff00"]}, "legend": {"title": null, "orient": "none", "legendX": 195, "legendY": 56, "labelFontSize": 5.3, "symbolSize": 36, "labelOffset": 4, "rowPadding": 1, "symbolType": "M-1.6,-0.07H-0.9V0.07H-1.6ZM-0.6,-0.07H-0.3V0.07H-0.6ZM0.3,-0.07H0.6V0.07H0.3ZM0.9,-0.07H1.6V0.07H0.9ZM-0.2,0A0.2,0.2,0,1,1,0.2,0A0.2,0.2,0,1,1,-0.2,0Z", "encode": {"symbols": {"update": {"strokeWidth": {"value": 0}, "opacity": {"value": 1}}}}}}
                }}
             ]}
          ]
        }
      ],
      "resolve": {"scale": {"x": "independent", "y": "independent", "color": "independent"}, "axis": {"x": "independent", "y": "independent"}, "legend": {"color": "independent"}}
    },
    {
      "title": "MD-500",
      "width": 466, "height": 258,
      "layer": [
        {
          "data": {"values": [
            {"s": "ALNS+NSGA-II", "LR": 0.4882, "SD": 0.5956}, {"s": "ALNS+NSGA-II", "LR": 0.4892, "SD": 0.5622}, {"s": "ALNS+NSGA-II", "LR": 0.4896, "SD": 0.5353}, {"s": "ALNS+NSGA-II", "LR": 0.4946, "SD": 0.5002}, {"s": "ALNS+NSGA-II", "LR": 0.4968, "SD": 0.478}, {"s": "ALNS+NSGA-II", "LR": 0.4972, "SD": 0.4592}, {"s": "ALNS+NSGA-II", "LR": 0.4986, "SD": 0.3814}, {"s": "ALNS+NSGA-II", "LR": 0.5114, "SD": 0.3803}, {"s": "ALNS+NSGA-II", "LR": 0.5171, "SD": 0.3352}, {"s": "ALNS+NSGA-II", "LR": 0.5247, "SD": 0.3352}, {"s": "ALNS+NSGA-II", "LR": 0.5313, "SD": 0.3217}, {"s": "ALNS+NSGA-II", "LR": 0.5379, "SD": 0.3217}, {"s": "ALNS+NSGA-II", "LR": 0.5401, "SD": 0.3217}, {"s": "ALNS+NSGA-II", "LR": 0.5427, "SD": 0.3065}, {"s": "ALNS+NSGA-II", "LR": 0.546, "SD": 0.2907}, {"s": "ALNS+NSGA-II", "LR": 0.5594, "SD": 0.2837}, {"s": "ALNS+NSGA-II", "LR": 0.5649, "SD": 0.2714}, {"s": "ALNS+NSGA-II", "LR": 0.566, "SD": 0.2708}, {"s": "ALNS+NSGA-II", "LR": 0.5756, "SD": 0.2351}, {"s": "ALNS+NSGA-II", "LR": 0.6003, "SD": 0.2199}, {"s": "ALNS+NSGA-II", "LR": 0.665, "SD": 0.2165},
            {"s": "GRASP+NSGA-II", "LR": 0.6191, "SD": 0.5815}, {"s": "GRASP+NSGA-II", "LR": 0.6211, "SD": 0.5774}, {"s": "GRASP+NSGA-II", "LR": 0.6217, "SD": 0.5605}, {"s": "GRASP+NSGA-II", "LR": 0.6227, "SD": 0.5535}, {"s": "GRASP+NSGA-II", "LR": 0.6233, "SD": 0.5324}, {"s": "GRASP+NSGA-II", "LR": 0.6251, "SD": 0.5265}, {"s": "GRASP+NSGA-II", "LR": 0.6272, "SD": 0.4985}, {"s": "GRASP+NSGA-II", "LR": 0.628, "SD": 0.4756}, {"s": "GRASP+NSGA-II", "LR": 0.6291, "SD": 0.4633}, {"s": "GRASP+NSGA-II", "LR": 0.6366, "SD": 0.4581}, {"s": "GRASP+NSGA-II", "LR": 0.6376, "SD": 0.4241}, {"s": "GRASP+NSGA-II", "LR": 0.6387, "SD": 0.3949}, {"s": "GRASP+NSGA-II", "LR": 0.6432, "SD": 0.3949}, {"s": "GRASP+NSGA-II", "LR": 0.644, "SD": 0.3334}, {"s": "GRASP+NSGA-II", "LR": 0.6505, "SD": 0.2825}, {"s": "GRASP+NSGA-II", "LR": 0.653, "SD": 0.2287}, {"s": "GRASP+NSGA-II", "LR": 0.665, "SD": 0.217}, {"s": "GRASP+NSGA-II", "LR": 0.6691, "SD": 0.2088}, {"s": "GRASP+NSGA-II", "LR": 0.6786, "SD": 0.2047},
            {"s": "EC+NSGA-II", "LR": 0.6267, "SD": 0.5353}, {"s": "EC+NSGA-II", "LR": 0.6275, "SD": 0.5096}, {"s": "EC+NSGA-II", "LR": 0.6282, "SD": 0.4815}, {"s": "EC+NSGA-II", "LR": 0.6325, "SD": 0.4803}, {"s": "EC+NSGA-II", "LR": 0.634, "SD": 0.4791}, {"s": "EC+NSGA-II", "LR": 0.6351, "SD": 0.4786}, {"s": "EC+NSGA-II", "LR": 0.6355, "SD": 0.4592}, {"s": "EC+NSGA-II", "LR": 0.637, "SD": 0.365}, {"s": "EC+NSGA-II", "LR": 0.648, "SD": 0.3504}, {"s": "EC+NSGA-II", "LR": 0.6506, "SD": 0.2708},
            {"s": "SA+NSGA-II", "LR": 0.6175, "SD": 0.612}, {"s": "SA+NSGA-II", "LR": 0.6186, "SD": 0.5763}, {"s": "SA+NSGA-II", "LR": 0.6222, "SD": 0.571}, {"s": "SA+NSGA-II", "LR": 0.6234, "SD": 0.571}, {"s": "SA+NSGA-II", "LR": 0.6265, "SD": 0.5412}, {"s": "SA+NSGA-II", "LR": 0.6294, "SD": 0.5306}, {"s": "SA+NSGA-II", "LR": 0.6298, "SD": 0.5137}, {"s": "SA+NSGA-II", "LR": 0.6301, "SD": 0.478}, {"s": "SA+NSGA-II", "LR": 0.6351, "SD": 0.413}, {"s": "SA+NSGA-II", "LR": 0.6391, "SD": 0.3884}, {"s": "SA+NSGA-II", "LR": 0.6456, "SD": 0.3399}, {"s": "SA+NSGA-II", "LR": 0.6506, "SD": 0.2708}, {"s": "SA+NSGA-II", "LR": 0.653, "SD": 0.2287}, {"s": "SA+NSGA-II", "LR": 0.665, "SD": 0.217}, {"s": "SA+NSGA-II", "LR": 0.6691, "SD": 0.2088}, {"s": "SA+NSGA-II", "LR": 0.6786, "SD": 0.2047}
          ]},
          "layer": [
            {"mark": {"type": "point", "filled": true, "size": 9, "opacity": 1},
             "encoding": {
               "x": {"field": "LR", "type": "quantitative", "scale": {"domain": [0.48, 0.68], "nice": false, "zero": false}, "axis": {"orient": "bottom", "title": "LR", "format": "~g", "tickCount": 30, "values": [0.48, 0.5, 0.52, 0.54, 0.56, 0.58, 0.6, 0.62, 0.64, 0.66, 0.68]}},
               "y": {"field": "SD", "type": "quantitative", "scale": {"domain": [0.2, 0.65], "nice": false, "zero": false}, "axis": {"orient": "left", "title": "SD", "format": "~g", "tickCount": 30, "values": [0.2, 0.25, 0.3, 0.35, 0.4, 0.45, 0.5, 0.55, 0.6, 0.65]}},
               "color": {"field": "s", "type": "nominal", "scale": {"domain": ["ALNS+NSGA-II", "GRASP+NSGA-II", "EC+NSGA-II", "SA+NSGA-II"], "range": ["#000000", "#0000ff", "#ff0000", "#00ff00"]}, "legend": {"title": null, "orient": "none", "legendX": 381, "legendY": 4, "encode": {"symbols": {"update": {"strokeWidth": {"value": 0}, "opacity": {"value": 1}}}}}}
             }},
            {"mark": {"type": "line", "strokeWidth": 0.8, "strokeDash": [3, 2]},
             "encoding": {
               "x": {"field": "LR", "type": "quantitative"},
               "y": {"field": "SD", "type": "quantitative"},
               "color": {"field": "s", "type": "nominal", "scale": {"domain": ["ALNS+NSGA-II", "GRASP+NSGA-II", "EC+NSGA-II", "SA+NSGA-II"], "range": ["#000000", "#0000ff", "#ff0000", "#00ff00"]}, "legend": {"title": null, "orient": "none", "legendX": 381, "legendY": 4, "encode": {"symbols": {"update": {"strokeWidth": {"value": 0}, "opacity": {"value": 1}}}}}},
               "order": {"value": null}
             }}
          ]
        },
        {
          "layer": [
            {"data": {"values": [{}]}, "mark": {"type": "rect", "fill": "#ffffff", "stroke": "#b4b4b4", "strokeWidth": 0.8},
             "encoding": {"x": {"datum": 0}, "x2": {"datum": 70}, "y": {"datum": 0.26}, "y2": {"datum": 0.4}}},
            {"data": {"values": [
              {"s": "ALNS+NSGA-II", "it": 0, "HV": 0.28}, {"s": "ALNS+NSGA-II", "it": 1, "HV": 0.3136}, {"s": "ALNS+NSGA-II", "it": 2, "HV": 0.3283}, {"s": "ALNS+NSGA-II", "it": 3, "HV": 0.345}, {"s": "ALNS+NSGA-II", "it": 4, "HV": 0.3523}, {"s": "ALNS+NSGA-II", "it": 5, "HV": 0.3579}, {"s": "ALNS+NSGA-II", "it": 6, "HV": 0.3616}, {"s": "ALNS+NSGA-II", "it": 7, "HV": 0.3642}, {"s": "ALNS+NSGA-II", "it": 8, "HV": 0.3653}, {"s": "ALNS+NSGA-II", "it": 10, "HV": 0.3701}, {"s": "ALNS+NSGA-II", "it": 12, "HV": 0.3708}, {"s": "ALNS+NSGA-II", "it": 14, "HV": 0.3738}, {"s": "ALNS+NSGA-II", "it": 17, "HV": 0.3764}, {"s": "ALNS+NSGA-II", "it": 20, "HV": 0.3782}, {"s": "ALNS+NSGA-II", "it": 22, "HV": 0.3782}, {"s": "ALNS+NSGA-II", "it": 23, "HV": 0.3819}, {"s": "ALNS+NSGA-II", "it": 26, "HV": 0.3826}, {"s": "ALNS+NSGA-II", "it": 28, "HV": 0.3863}, {"s": "ALNS+NSGA-II", "it": 31, "HV": 0.3882}, {"s": "ALNS+NSGA-II", "it": 34, "HV": 0.3904}, {"s": "ALNS+NSGA-II", "it": 36, "HV": 0.393}, {"s": "ALNS+NSGA-II", "it": 39, "HV": 0.3941},
              {"s": "GRASP+NSGA-II", "it": 0, "HV": 0.28}, {"s": "GRASP+NSGA-II", "it": 1, "HV": 0.2829}, {"s": "GRASP+NSGA-II", "it": 3, "HV": 0.2859}, {"s": "GRASP+NSGA-II", "it": 5, "HV": 0.2896}, {"s": "GRASP+NSGA-II", "it": 9, "HV": 0.2921}, {"s": "GRASP+NSGA-II", "it": 16, "HV": 0.294}, {"s": "GRASP+NSGA-II", "it": 25, "HV": 0.2947}, {"s": "GRASP+NSGA-II", "it": 67, "HV": 0.2958},
              {"s": "EC+NSGA-II", "it": 0, "HV": 0.28}, {"s": "EC+NSGA-II", "it": 2, "HV": 0.2859}, {"s": "EC+NSGA-II", "it": 5, "HV": 0.2877}, {"s": "EC+NSGA-II", "it": 9, "HV": 0.2896}, {"s": "EC+NSGA-II", "it": 21, "HV": 0.2903}, {"s": "EC+NSGA-II", "it": 50, "HV": 0.2914}, {"s": "EC+NSGA-II", "it": 51, "HV": 0.2925}, {"s": "EC+NSGA-II", "it": 61, "HV": 0.2925},
              {"s": "SA+NSGA-II", "it": 0, "HV": 0.28}, {"s": "SA+NSGA-II", "it": 2, "HV": 0.2866}, {"s": "SA+NSGA-II", "it": 4, "HV": 0.2903}, {"s": "SA+NSGA-II", "it": 9, "HV": 0.2932}, {"s": "SA+NSGA-II", "it": 14, "HV": 0.294}, {"s": "SA+NSGA-II", "it": 21, "HV": 0.2951}, {"s": "SA+NSGA-II", "it": 67, "HV": 0.2958}
            ]},
             "layer": [
               {"mark": {"type": "point", "filled": true, "size": 1.8, "opacity": 1},
                "encoding": {
                  "x": {"field": "it", "type": "quantitative", "scale": {"domain": [0, 70], "range": [73, 311.3], "nice": false, "zero": false}, "axis": {"orient": "bottom", "offset": -117, "title": "Iteration", "tickCount": 30, "values": [0, 10, 20, 30, 40, 50, 60, 70], "labelFontSize": 5.2, "titleFontSize": 5, "titlePadding": 1, "gridColor": "#d6d6d6", "zindex": 1}},
                  "y": {"field": "HV", "type": "quantitative", "scale": {"domain": [0.26, 0.4], "range": [141, 14.7], "nice": false, "zero": false}, "axis": {"orient": "left", "offset": -73, "title": "HV", "format": "~g", "tickCount": 30, "values": [0.26, 0.28, 0.3, 0.32, 0.34, 0.36, 0.38, 0.4], "labelFontSize": 5.2, "titleFontSize": 5, "titlePadding": 1, "gridColor": "#d6d6d6", "zindex": 1}},
                  "color": {"field": "s", "type": "nominal", "scale": {"domain": ["ALNS+NSGA-II", "GRASP+NSGA-II", "EC+NSGA-II", "SA+NSGA-II"], "range": ["#000000", "#0000ff", "#ff0000", "#00ff00"]}, "legend": {"title": null, "orient": "none", "legendX": 244.7, "legendY": 21.3, "labelFontSize": 5.3, "symbolSize": 36, "labelOffset": 4, "rowPadding": 1, "symbolType": "M-1.6,-0.07H-0.9V0.07H-1.6ZM-0.6,-0.07H-0.3V0.07H-0.6ZM0.3,-0.07H0.6V0.07H0.3ZM0.9,-0.07H1.6V0.07H0.9ZM-0.2,0A0.2,0.2,0,1,1,0.2,0A0.2,0.2,0,1,1,-0.2,0Z", "encode": {"symbols": {"update": {"strokeWidth": {"value": 0}, "opacity": {"value": 1}}}}}}
                }},
               {"mark": {"type": "line", "strokeWidth": 1.3, "strokeDash": [1.3, 2.1]},
                "encoding": {
                  "x": {"field": "it", "type": "quantitative"},
                  "y": {"field": "HV", "type": "quantitative"},
                  "color": {"field": "s", "type": "nominal", "scale": {"domain": ["ALNS+NSGA-II", "GRASP+NSGA-II", "EC+NSGA-II", "SA+NSGA-II"], "range": ["#000000", "#0000ff", "#ff0000", "#00ff00"]}, "legend": {"title": null, "orient": "none", "legendX": 244.7, "legendY": 21.3, "labelFontSize": 5.3, "symbolSize": 36, "labelOffset": 4, "rowPadding": 1, "symbolType": "M-1.6,-0.07H-0.9V0.07H-1.6ZM-0.6,-0.07H-0.3V0.07H-0.6ZM0.3,-0.07H0.6V0.07H0.3ZM0.9,-0.07H1.6V0.07H0.9ZM-0.2,0A0.2,0.2,0,1,1,0.2,0A0.2,0.2,0,1,1,-0.2,0Z", "encode": {"symbols": {"update": {"strokeWidth": {"value": 0}, "opacity": {"value": 1}}}}}}
                }}
             ]}
          ]
        }
      ],
      "resolve": {"scale": {"x": "independent", "y": "independent", "color": "independent"}, "axis": {"x": "independent", "y": "independent"}, "legend": {"color": "independent"}}
    },
    {
      "title": "MD-600",
      "width": 466, "height": 258,
      "layer": [
        {
          "data": {"values": [
            {"s": "ALNS+NSGA-II", "LR": 0.5336, "SD": 0.4581}, {"s": "ALNS+NSGA-II", "LR": 0.5351, "SD": 0.4488}, {"s": "ALNS+NSGA-II", "LR": 0.5365, "SD": 0.4459}, {"s": "ALNS+NSGA-II", "LR": 0.5384, "SD": 0.3501}, {"s": "ALNS+NSGA-II", "LR": 0.563, "SD": 0.2958}, {"s": "ALNS+NSGA-II", "LR": 0.5791, "SD": 0.2958}, {"s": "ALNS+NSGA-II", "LR": 0.5874, "SD": 0.2935}, {"s": "ALNS+NSGA-II", "LR": 0.592, "SD": 0.2579}, {"s": "ALNS+NSGA-II", "LR": 0.6056, "SD": 0.2135}, {"s": "ALNS+NSGA-II", "LR": 0.634, "SD": 0.2106}, {"s": "ALNS+NSGA-II", "LR": 0.6701, "SD": 0.2042}, {"s": "ALNS+NSGA-II", "LR": 0.6905, "SD": 0.2},
            {"s": "GRASP+NSGA-II", "LR": 0.6523, "SD": 0.5691}, {"s": "GRASP+NSGA-II", "LR": 0.6529, "SD": 0.5136}, {"s": "GRASP+NSGA-II", "LR": 0.6548, "SD": 0.5136}, {"s": "GRASP+NSGA-II", "LR": 0.6612, "SD": 0.5124}, {"s": "GRASP+NSGA-II", "LR": 0.6674, "SD": 0.464}, {"s": "GRASP+NSGA-II", "LR": 0.677, "SD": 0.4476}, {"s": "GRASP+NSGA-II", "LR": 0.6892, "SD": 0.2083}, {"s": "GRASP+NSGA-II", "LR": 0.691, "SD": 0.2},
            {"s": "EC+NSGA-II", "LR": 0.6612, "SD": 0.5189}, {"s": "EC+NSGA-II", "LR": 0.6655, "SD": 0.5107}, {"s": "EC+NSGA-II", "LR": 0.6662, "SD": 0.4541}, {"s": "EC+NSGA-II", "LR": 0.688, "SD": 0.4447}, {"s": "EC+NSGA-II", "LR": 0.6889, "SD": 0.2083},
            {"s": "SA+NSGA-II", "LR": 0.6591, "SD": 0.5982}, {"s": "SA+NSGA-II", "LR": 0.6608, "SD": 0.527}, {"s": "SA+NSGA-II", "LR": 0.6655, "SD": 0.4943}, {"s": "SA+NSGA-II", "LR": 0.667, "SD": 0.4932}, {"s": "SA+NSGA-II", "LR": 0.6674, "SD": 0.471}, {"s": "SA+NSGA-II", "LR": 0.6724, "SD": 0.4506}, {"s": "SA+NSGA-II", "LR": 0.6892, "SD": 0.4214}, {"s": "SA+NSGA-II", "LR": 0.6895, "SD": 0.2083}, {"s": "SA+NSGA-II", "LR": 0.691, "SD": 0.2}, {"s": "SA+NSGA-II", "LR": 0.7032, "SD": 0.1984}, {"s": "SA+NSGA-II", "LR": 0.7068, "SD": 0.1867}, {"s": "SA+NSGA-II", "LR": 0.7108, "SD": 0.1855}
          ]},
          "layer": [
            {"mark": {"type": "point", "filled": true, "size": 9, "opacity": 1},
             "encoding": {
               "x": {"field": "LR", "type": "quantitative", "scale": {"domain": [0.52, 0.72], "nice": false, "zero": false}, "axis": {"orient": "bottom", "title": "LR", "format": "~g", "tickCount": 30, "values": [0.52, 0.54, 0.56, 0.58, 0.6, 0.62, 0.64, 0.66, 0.68, 0.7, 0.72]}},
               "y": {"field": "SD", "type": "quantitative", "scale": {"domain": [0.15, 0.6], "nice": false, "zero": false}, "axis": {"orient": "left", "title": "SD", "format": "~g", "tickCount": 30, "values": [0.15, 0.2, 0.25, 0.3, 0.35, 0.4, 0.45, 0.5, 0.55, 0.6]}},
               "color": {"field": "s", "type": "nominal", "scale": {"domain": ["ALNS+NSGA-II", "GRASP+NSGA-II", "EC+NSGA-II", "SA+NSGA-II"], "range": ["#000000", "#0000ff", "#ff0000", "#00ff00"]}, "legend": {"title": null, "orient": "none", "legendX": 379, "legendY": 5, "encode": {"symbols": {"update": {"strokeWidth": {"value": 0}, "opacity": {"value": 1}}}}}}
             }},
            {"mark": {"type": "line", "strokeWidth": 0.8, "strokeDash": [3, 2]},
             "encoding": {
               "x": {"field": "LR", "type": "quantitative"},
               "y": {"field": "SD", "type": "quantitative"},
               "color": {"field": "s", "type": "nominal", "scale": {"domain": ["ALNS+NSGA-II", "GRASP+NSGA-II", "EC+NSGA-II", "SA+NSGA-II"], "range": ["#000000", "#0000ff", "#ff0000", "#00ff00"]}, "legend": {"title": null, "orient": "none", "legendX": 379, "legendY": 5, "encode": {"symbols": {"update": {"strokeWidth": {"value": 0}, "opacity": {"value": 1}}}}}},
               "order": {"value": null}
             }}
          ]
        },
        {
          "layer": [
            {"data": {"values": [{}]}, "mark": {"type": "rect", "fill": "#ffffff", "stroke": "#b4b4b4", "strokeWidth": 0.8},
             "encoding": {"x": {"datum": 0}, "x2": {"datum": 70}, "y": {"datum": 0.24}, "y2": {"datum": 0.38}}},
            {"data": {"values": [
              {"s": "ALNS+NSGA-II", "it": 0, "HV": 0.2529}, {"s": "ALNS+NSGA-II", "it": 1, "HV": 0.2901}, {"s": "ALNS+NSGA-II", "it": 2, "HV": 0.3111}, {"s": "ALNS+NSGA-II", "it": 3, "HV": 0.3144}, {"s": "ALNS+NSGA-II", "it": 4, "HV": 0.3295}, {"s": "ALNS+NSGA-II", "it": 5, "HV": 0.335}, {"s": "ALNS+NSGA-II", "it": 6, "HV": 0.335}, {"s": "ALNS+NSGA-II", "it": 8, "HV": 0.338}, {"s": "ALNS+NSGA-II", "it": 10, "HV": 0.3398}, {"s": "ALNS+NSGA-II", "it": 12, "HV": 0.3443}, {"s": "ALNS+NSGA-II", "it": 14, "HV": 0.3443}, {"s": "ALNS+NSGA-II", "it": 16, "HV": 0.3472}, {"s": "ALNS+NSGA-II", "it": 18, "HV": 0.348}, {"s": "ALNS+NSGA-II", "it": 20, "HV": 0.3505}, {"s": "ALNS+NSGA-II", "it": 21, "HV": 0.3546}, {"s": "ALNS+NSGA-II", "it": 23, "HV": 0.3546}, {"s": "ALNS+NSGA-II", "it": 24, "HV": 0.3597}, {"s": "ALNS+NSGA-II", "it": 26, "HV": 0.3597}, {"s": "ALNS+NSGA-II", "it": 27, "HV": 0.3616}, {"s": "ALNS+NSGA-II", "it": 29, "HV": 0.3634}, {"s": "ALNS+NSGA-II", "it": 31, "HV": 0.3645}, {"s": "ALNS+NSGA-II", "it": 33, "HV": 0.366}, {"s": "ALNS+NSGA-II", "it": 35, "HV": 0.3675}, {"s": "ALNS+NSGA-II", "it": 37, "HV": 0.3682},
              {"s": "GRASP+NSGA-II", "it": 0, "HV": 0.2529}, {"s": "GRASP+NSGA-II", "it": 1, "HV": 0.2566}, {"s": "GRASP+NSGA-II", "it": 3, "HV": 0.2602}, {"s": "GRASP+NSGA-II", "it": 7, "HV": 0.2628}, {"s": "GRASP+NSGA-II", "it": 16, "HV": 0.265}, {"s": "GRASP+NSGA-II", "it": 27, "HV": 0.2672}, {"s": "GRASP+NSGA-II", "it": 34, "HV": 0.2695}, {"s": "GRASP+NSGA-II", "it": 40, "HV": 0.2713}, {"s": "GRASP+NSGA-II", "it": 59, "HV": 0.272},
              {"s": "EC+NSGA-II", "it": 0, "HV": 0.2529}, {"s": "EC+NSGA-II", "it": 1, "HV": 0.2555}, {"s": "EC+NSGA-II", "it": 3, "HV": 0.2602}, {"s": "EC+NSGA-II", "it": 8, "HV": 0.2625}, {"s": "EC+NSGA-II", "it": 16, "HV": 0.2632}, {"s": "EC+NSGA-II", "it": 28, "HV": 0.265}, {"s": "EC+NSGA-II", "it": 34, "HV": 0.2669}, {"s": "EC+NSGA-II", "it": 43, "HV": 0.2676}, {"s": "EC+NSGA-II", "it": 49, "HV": 0.2684},
              {"s": "SA+NSGA-II", "it": 0, "HV": 0.2529}, {"s": "SA+NSGA-II", "it": 2, "HV": 0.2595}, {"s": "SA+NSGA-II", "it": 4, "HV": 0.2621}, {"s": "SA+NSGA-II", "it": 14, "HV": 0.2647}, {"s": "SA+NSGA-II", "it": 24, "HV": 0.2665}, {"s": "SA+NSGA-II", "it": 34, "HV": 0.2676}, {"s": "SA+NSGA-II", "it": 46, "HV": 0.2687}, {"s": "SA+NSGA-II", "it": 62, "HV": 0.2691}
            ]},
             "layer": [
               {"mark": {"type": "point", "filled": true, "size": 1.8, "opacity": 1},
                "encoding": {
                  "x": {"field": "it", "type": "quantitative", "scale": {"domain": [0, 70], "range": [63.3, 302.7], "nice": false, "zero": false}, "axis": {"orient": "bottom", "offset": -124.3, "title": "Iteration", "tickCount": 30, "values": [0, 10, 20, 30, 40, 50, 60, 70], "labelFontSize": 5.2, "titleFontSize": 5, "titlePadding": 1, "gridColor": "#d6d6d6", "zindex": 1}},
                  "y": {"field": "HV", "type": "quantitative", "scale": {"domain": [0.24, 0.38], "range": [133.7, 7], "nice": false, "zero": false}, "axis": {"orient": "left", "offset": -63.3, "title": "HV", "format": "~g", "tickCount": 30, "values": [0.24, 0.26, 0.28, 0.3, 0.32, 0.34, 0.36, 0.38], "labelFontSize": 5.2, "titleFontSize": 5, "titlePadding": 1, "gridColor": "#d6d6d6", "zindex": 1}},
                  "color": {"field": "s", "type": "nominal", "scale": {"domain": ["ALNS+NSGA-II", "GRASP+NSGA-II", "EC+NSGA-II", "SA+NSGA-II"], "range": ["#000000", "#0000ff", "#ff0000", "#00ff00"]}, "legend": {"title": null, "orient": "none", "legendX": 235, "legendY": 13.3, "labelFontSize": 5.3, "symbolSize": 36, "labelOffset": 4, "rowPadding": 1, "symbolType": "M-1.6,-0.07H-0.9V0.07H-1.6ZM-0.6,-0.07H-0.3V0.07H-0.6ZM0.3,-0.07H0.6V0.07H0.3ZM0.9,-0.07H1.6V0.07H0.9ZM-0.2,0A0.2,0.2,0,1,1,0.2,0A0.2,0.2,0,1,1,-0.2,0Z", "encode": {"symbols": {"update": {"strokeWidth": {"value": 0}, "opacity": {"value": 1}}}}}}
                }},
               {"mark": {"type": "line", "strokeWidth": 1.3, "strokeDash": [1.3, 2.1]},
                "encoding": {
                  "x": {"field": "it", "type": "quantitative"},
                  "y": {"field": "HV", "type": "quantitative"},
                  "color": {"field": "s", "type": "nominal", "scale": {"domain": ["ALNS+NSGA-II", "GRASP+NSGA-II", "EC+NSGA-II", "SA+NSGA-II"], "range": ["#000000", "#0000ff", "#ff0000", "#00ff00"]}, "legend": {"title": null, "orient": "none", "legendX": 235, "legendY": 13.3, "labelFontSize": 5.3, "symbolSize": 36, "labelOffset": 4, "rowPadding": 1, "symbolType": "M-1.6,-0.07H-0.9V0.07H-1.6ZM-0.6,-0.07H-0.3V0.07H-0.6ZM0.3,-0.07H0.6V0.07H0.3ZM0.9,-0.07H1.6V0.07H0.9ZM-0.2,0A0.2,0.2,0,1,1,0.2,0A0.2,0.2,0,1,1,-0.2,0Z", "encode": {"symbols": {"update": {"strokeWidth": {"value": 0}, "opacity": {"value": 1}}}}}}
                }}
             ]}
          ]
        }
      ],
      "resolve": {"scale": {"x": "independent", "y": "independent", "color": "independent"}, "axis": {"x": "independent", "y": "independent"}, "legend": {"color": "independent"}}
    },
    {
      "title": "MD-700",
      "width": 466, "height": 258,
      "layer": [
        {
          "data": {"values": [
            {"s": "ALNS+NSGA-II", "LR": 0.5855, "SD": 0.7}, {"s": "ALNS+NSGA-II", "LR": 0.5871, "SD": 0.556}, {"s": "ALNS+NSGA-II", "LR": 0.5875, "SD": 0.5374}, {"s": "ALNS+NSGA-II", "LR": 0.5881, "SD": 0.5128}, {"s": "ALNS+NSGA-II", "LR": 0.5906, "SD": 0.4712}, {"s": "ALNS+NSGA-II", "LR": 0.5935, "SD": 0.4496}, {"s": "ALNS+NSGA-II", "LR": 0.5961, "SD": 0.445}, {"s": "ALNS+NSGA-II", "LR": 0.5996, "SD": 0.445}, {"s": "ALNS+NSGA-II", "LR": 0.6, "SD": 0.3988}, {"s": "ALNS+NSGA-II", "LR": 0.601, "SD": 0.3549}, {"s": "ALNS+NSGA-II", "LR": 0.6043, "SD": 0.3225}, {"s": "ALNS+NSGA-II", "LR": 0.6106, "SD": 0.2932}, {"s": "ALNS+NSGA-II", "LR": 0.6119, "SD": 0.2855}, {"s": "ALNS+NSGA-II", "LR": 0.6199, "SD": 0.274}, {"s": "ALNS+NSGA-II", "LR": 0.6273, "SD": 0.274}, {"s": "ALNS+NSGA-II", "LR": 0.6279, "SD": 0.2663}, {"s": "ALNS+NSGA-II", "LR": 0.6502, "SD": 0.2532}, {"s": "ALNS+NSGA-II", "LR": 0.6614, "SD": 0.2347}, {"s": "ALNS+NSGA-II", "LR": 0.6665, "SD": 0.2216}, {"s": "ALNS+NSGA-II", "LR": 0.7, "SD": 0.2216}, {"s": "ALNS+NSGA-II", "LR": 0.7274, "SD": 0.217},
            {"s": "GRASP+NSGA-II", "LR": 0.7084, "SD": 0.5636}, {"s": "GRASP+NSGA-II", "LR": 0.709, "SD": 0.5205}, {"s": "GRASP+NSGA-II", "LR": 0.7097, "SD": 0.5082}, {"s": "GRASP+NSGA-II", "LR": 0.7103, "SD": 0.5005}, {"s": "GRASP+NSGA-II", "LR": 0.7126, "SD": 0.4496}, {"s": "GRASP+NSGA-II", "LR": 0.713, "SD": 0.4435}, {"s": "GRASP+NSGA-II", "LR": 0.7154, "SD": 0.3818}, {"s": "GRASP+NSGA-II", "LR": 0.7207, "SD": 0.3818}, {"s": "GRASP+NSGA-II", "LR": 0.7246, "SD": 0.3818}, {"s": "GRASP+NSGA-II", "LR": 0.7287, "SD": 0.2046}, {"s": "GRASP+NSGA-II", "LR": 0.7412, "SD": 0.1908},
            {"s": "EC+NSGA-II", "LR": 0.7136, "SD": 0.4935}, {"s": "EC+NSGA-II", "LR": 0.7169, "SD": 0.4912}, {"s": "EC+NSGA-II", "LR": 0.7188, "SD": 0.4627}, {"s": "EC+NSGA-II", "LR": 0.7193, "SD": 0.4589}, {"s": "EC+NSGA-II", "LR": 0.72, "SD": 0.4473}, {"s": "EC+NSGA-II", "LR": 0.7268, "SD": 0.4065}, {"s": "EC+NSGA-II", "LR": 0.7287, "SD": 0.2046},
            {"s": "SA+NSGA-II", "LR": 0.7075, "SD": 0.4704}, {"s": "SA+NSGA-II", "LR": 0.7097, "SD": 0.4111}, {"s": "SA+NSGA-II", "LR": 0.7148, "SD": 0.3741}, {"s": "SA+NSGA-II", "LR": 0.7156, "SD": 0.3687}, {"s": "SA+NSGA-II", "LR": 0.7252, "SD": 0.351}, {"s": "SA+NSGA-II", "LR": 0.7287, "SD": 0.2046}, {"s": "SA+NSGA-II", "LR": 0.7412, "SD": 0.1908}
          ]},
          "layer": [
            {"mark": {"type": "point", "filled": true, "size": 9, "opacity": 1},
             "encoding": {
               "x": {"field": "LR", "type": "quantitative", "scale": {"domain": [0.58, 0.76], "nice": false, "zero": false}, "axis": {"orient": "bottom", "title": "LR", "format": "~g", "tickCount": 30, "values": [0.58, 0.6, 0.62, 0.64, 0.66, 0.68, 0.7, 0.72, 0.74, 0.76]}},
               "y": {"field": "SD", "type": "quantitative", "scale": {"domain": [0.1, 0.7], "nice": false, "zero": false}, "axis": {"orient": "left", "title": "SD", "format": "~g", "tickCount": 30, "values": [0.1, 0.2, 0.3, 0.4, 0.5, 0.6, 0.7]}},
               "color": {"field": "s", "type": "nominal", "scale": {"domain": ["ALNS+NSGA-II", "GRASP+NSGA-II", "EC+NSGA-II", "SA+NSGA-II"], "range": ["#000000", "#0000ff", "#ff0000", "#00ff00"]}, "legend": {"title": null, "orient": "none", "legendX": 381, "legendY": 5, "encode": {"symbols": {"update": {"strokeWidth": {"value": 0}, "opacity": {"value": 1}}}}}}
             }},
            {"mark": {"type": "line", "strokeWidth": 0.8, "strokeDash": [3, 2]},
             "encoding": {
               "x": {"field": "LR", "type": "quantitative"},
               "y": {"field": "SD", "type": "quantitative"},
               "color": {"field": "s", "type": "nominal", "scale": {"domain": ["ALNS+NSGA-II", "GRASP+NSGA-II", "EC+NSGA-II", "SA+NSGA-II"], "range": ["#000000", "#0000ff", "#ff0000", "#00ff00"]}, "legend": {"title": null, "orient": "none", "legendX": 381, "legendY": 5, "encode": {"symbols": {"update": {"strokeWidth": {"value": 0}, "opacity": {"value": 1}}}}}},
               "order": {"value": null}
             }}
          ]
        },
        {
          "layer": [
            {"data": {"values": [{}]}, "mark": {"type": "rect", "fill": "#ffffff", "stroke": "#b4b4b4", "strokeWidth": 0.8},
             "encoding": {"x": {"datum": 0}, "x2": {"datum": 45}, "y": {"datum": 0.2}, "y2": {"datum": 0.34}}},
            {"data": {"values": [
              {"s": "ALNS+NSGA-II", "it": 0, "HV": 0.2209}, {"s": "ALNS+NSGA-II", "it": 1, "HV": 0.2548}, {"s": "ALNS+NSGA-II", "it": 2, "HV": 0.2695}, {"s": "ALNS+NSGA-II", "it": 3, "HV": 0.2833}, {"s": "ALNS+NSGA-II", "it": 4, "HV": 0.2859}, {"s": "ALNS+NSGA-II", "it": 5, "HV": 0.2896}, {"s": "ALNS+NSGA-II", "it": 6, "HV": 0.2932}, {"s": "ALNS+NSGA-II", "it": 7, "HV": 0.2969}, {"s": "ALNS+NSGA-II", "it": 8, "HV": 0.3067}, {"s": "ALNS+NSGA-II", "it": 9, "HV": 0.3067}, {"s": "ALNS+NSGA-II", "it": 10, "HV": 0.3078}, {"s": "ALNS+NSGA-II", "it": 11, "HV": 0.3115}, {"s": "ALNS+NSGA-II", "it": 12, "HV": 0.3133}, {"s": "ALNS+NSGA-II", "it": 14, "HV": 0.3141}, {"s": "ALNS+NSGA-II", "it": 15, "HV": 0.3152}, {"s": "ALNS+NSGA-II", "it": 16, "HV": 0.3159}, {"s": "ALNS+NSGA-II", "it": 17, "HV": 0.3181}, {"s": "ALNS+NSGA-II", "it": 23, "HV": 0.3188}, {"s": "ALNS+NSGA-II", "it": 24, "HV": 0.3188}, {"s": "ALNS+NSGA-II", "it": 25, "HV": 0.3214}, {"s": "ALNS+NSGA-II", "it": 29, "HV": 0.3225}, {"s": "ALNS+NSGA-II", "it": 30, "HV": 0.3225}, {"s": "ALNS+NSGA-II", "it": 31, "HV": 0.3236}, {"s": "ALNS+NSGA-II", "it": 34, "HV": 0.3239},
              {"s": "GRASP+NSGA-II", "it": 0, "HV": 0.2209}, {"s": "GRASP+NSGA-II", "it": 1, "HV": 0.2227}, {"s": "GRASP+NSGA-II", "it": 5, "HV": 0.2256}, {"s": "GRASP+NSGA-II", "it": 10, "HV": 0.2274}, {"s": "GRASP+NSGA-II", "it": 15, "HV": 0.2285}, {"s": "GRASP+NSGA-II", "it": 25, "HV": 0.2303}, {"s": "GRASP+NSGA-II", "it": 44, "HV": 0.2329},
              {"s": "EC+NSGA-II", "it": 0, "HV": 0.2209}, {"s": "EC+NSGA-II", "it": 2, "HV": 0.2238}, {"s": "EC+NSGA-II", "it": 7, "HV": 0.2267}, {"s": "EC+NSGA-II", "it": 12, "HV": 0.2282}, {"s": "EC+NSGA-II", "it": 21, "HV": 0.2289}, {"s": "EC+NSGA-II", "it": 42, "HV": 0.2289},
              {"s": "SA+NSGA-II", "it": 0, "HV": 0.2209}, {"s": "SA+NSGA-II", "it": 2, "HV": 0.2238}, {"s": "SA+NSGA-II", "it": 7, "HV": 0.2263}, {"s": "SA+NSGA-II", "it": 12, "HV": 0.2285}, {"s": "SA+NSGA-II", "it": 13, "HV": 0.23}, {"s": "SA+NSGA-II", "it": 25, "HV": 0.2311}, {"s": "SA+NSGA-II", "it": 27, "HV": 0.2322}, {"s": "SA+NSGA-II", "it": 42, "HV": 0.234}
            ]},
             "layer": [
               {"mark": {"type": "point", "filled": true, "size": 1.8, "opacity": 1},
                "encoding": {
                  "x": {"field": "it", "type": "quantitative", "scale": {"domain": [0, 45], "range": [81.7, 322], "nice": false, "zero": false}, "axis": {"orient": "bottom", "offset": -112, "title": "Iteration", "tickCount": 30, "values": [0, 5, 10, 15, 20, 25, 30, 35, 40, 45], "labelFontSize": 5.2, "titleFontSize": 5, "titlePadding": 1, "gridColor": "#d6d6d6", "zindex": 1}},
                  "y": {"field": "HV", "type": "quantitative", "scale": {"domain": [0.2, 0.34], "range": [146, 18.3], "nice": false, "zero": false}, "axis": {"orient": "left", "offset": -81.7, "title": "HV", "format": "~g", "tickCount": 30, "values": [0.2, 0.22, 0.24, 0.26, 0.28, 0.3, 0.32, 0.34], "labelFontSize": 5.2, "titleFontSize": 5, "titlePadding": 1, "gridColor": "#d6d6d6", "zindex": 1}},
                  "color": {"field": "s", "type": "nominal", "scale": {"domain": ["ALNS+NSGA-II", "GRASP+NSGA-II", "EC+NSGA-II", "SA+NSGA-II"], "range": ["#000000", "#0000ff", "#ff0000", "#00ff00"]}, "legend": {"title": null, "orient": "none", "legendX": 253.3, "legendY": 67.7, "labelFontSize": 5.3, "symbolSize": 36, "labelOffset": 4, "rowPadding": 1, "symbolType": "M-1.6,-0.07H-0.9V0.07H-1.6ZM-0.6,-0.07H-0.3V0.07H-0.6ZM0.3,-0.07H0.6V0.07H0.3ZM0.9,-0.07H1.6V0.07H0.9ZM-0.2,0A0.2,0.2,0,1,1,0.2,0A0.2,0.2,0,1,1,-0.2,0Z", "encode": {"symbols": {"update": {"strokeWidth": {"value": 0}, "opacity": {"value": 1}}}}}}
                }},
               {"mark": {"type": "line", "strokeWidth": 1.3, "strokeDash": [1.3, 4]},
                "encoding": {
                  "x": {"field": "it", "type": "quantitative"},
                  "y": {"field": "HV", "type": "quantitative"},
                  "color": {"field": "s", "type": "nominal", "scale": {"domain": ["ALNS+NSGA-II", "GRASP+NSGA-II", "EC+NSGA-II", "SA+NSGA-II"], "range": ["#000000", "#0000ff", "#ff0000", "#00ff00"]}, "legend": {"title": null, "orient": "none", "legendX": 253.3, "legendY": 67.7, "labelFontSize": 5.3, "symbolSize": 36, "labelOffset": 4, "rowPadding": 1, "symbolType": "M-1.6,-0.07H-0.9V0.07H-1.6ZM-0.6,-0.07H-0.3V0.07H-0.6ZM0.3,-0.07H0.6V0.07H0.3ZM0.9,-0.07H1.6V0.07H0.9ZM-0.2,0A0.2,0.2,0,1,1,0.2,0A0.2,0.2,0,1,1,-0.2,0Z", "encode": {"symbols": {"update": {"strokeWidth": {"value": 0}, "opacity": {"value": 1}}}}}}
                }}
             ]}
          ]
        }
      ],
      "resolve": {"scale": {"x": "independent", "y": "independent", "color": "independent"}, "axis": {"x": "independent", "y": "independent"}, "legend": {"color": "independent"}}
    },
    {
      "title": "MD-800",
      "width": 466, "height": 258,
      "layer": [
        {
          "data": {"values": [
            {"s": "ALNS+NSGA-II", "LR": 0.6279, "SD": 0.5363}, {"s": "ALNS+NSGA-II", "LR": 0.6325, "SD": 0.5202}, {"s": "ALNS+NSGA-II", "LR": 0.6353, "SD": 0.5156}, {"s": "ALNS+NSGA-II", "LR": 0.6355, "SD": 0.482}, {"s": "ALNS+NSGA-II", "LR": 0.6378, "SD": 0.4155}, {"s": "ALNS+NSGA-II", "LR": 0.6385, "SD": 0.4103}, {"s": "ALNS+NSGA-II", "LR": 0.6508, "SD": 0.3864}, {"s": "ALNS+NSGA-II", "LR": 0.6551, "SD": 0.3477}, {"s": "ALNS+NSGA-II", "LR": 0.6561, "SD": 0.3444}, {"s": "ALNS+NSGA-II", "LR": 0.6607, "SD": 0.3251}, {"s": "ALNS+NSGA-II", "LR": 0.6665, "SD": 0.3141}, {"s": "ALNS+NSGA-II", "LR": 0.6704, "SD": 0.294}, {"s": "ALNS+NSGA-II", "LR": 0.6751, "SD": 0.2463}, {"s": "ALNS+NSGA-II", "LR": 0.69, "SD": 0.2456}, {"s": "ALNS+NSGA-II", "LR": 0.698, "SD": 0.2404}, {"s": "ALNS+NSGA-II", "LR": 0.7033, "SD": 0.2249}, {"s": "ALNS+NSGA-II", "LR": 0.7115, "SD": 0.2165}, {"s": "ALNS+NSGA-II", "LR": 0.7226, "SD": 0.1907},
            {"s": "GRASP+NSGA-II", "LR": 0.7523, "SD": 0.5686}, {"s": "GRASP+NSGA-II", "LR": 0.756, "SD": 0.5628}, {"s": "GRASP+NSGA-II", "LR": 0.757, "SD": 0.5466}, {"s": "GRASP+NSGA-II", "LR": 0.7623, "SD": 0.5105}, {"s": "GRASP+NSGA-II", "LR": 0.7649, "SD": 0.4446}, {"s": "GRASP+NSGA-II", "LR": 0.767, "SD": 0.4039}, {"s": "GRASP+NSGA-II", "LR": 0.7699, "SD": 0.214}, {"s": "GRASP+NSGA-II", "LR": 0.78, "SD": 0.2036}, {"s": "GRASP+NSGA-II", "LR": 0.7828, "SD": 0.2023}, {"s": "GRASP+NSGA-II", "LR": 0.8045, "SD": 0.201}, {"s": "GRASP+NSGA-II", "LR": 0.8088, "SD": 0.2004},
            {"s": "EC+NSGA-II", "LR": 0.751, "SD": 0.6494}, {"s": "EC+NSGA-II", "LR": 0.7531, "SD": 0.6494}, {"s": "EC+NSGA-II", "LR": 0.7541, "SD": 0.6125}, {"s": "EC+NSGA-II", "LR": 0.7566, "SD": 0.5693}, {"s": "EC+NSGA-II", "LR": 0.7577, "SD": 0.5686}, {"s": "EC+NSGA-II", "LR": 0.758, "SD": 0.4885}, {"s": "EC+NSGA-II", "LR": 0.7589, "SD": 0.464}, {"s": "EC+NSGA-II", "LR": 0.7667, "SD": 0.4485}, {"s": "EC+NSGA-II", "LR": 0.7699, "SD": 0.214},
            {"s": "SA+NSGA-II", "LR": 0.7513, "SD": 0.6061}, {"s": "SA+NSGA-II", "LR": 0.752, "SD": 0.5673}, {"s": "SA+NSGA-II", "LR": 0.7527, "SD": 0.5499}, {"s": "SA+NSGA-II", "LR": 0.7592, "SD": 0.5176}, {"s": "SA+NSGA-II", "LR": 0.762, "SD": 0.4995}, {"s": "SA+NSGA-II", "LR": 0.763, "SD": 0.4956}, {"s": "SA+NSGA-II", "LR": 0.766, "SD": 0.4265}, {"s": "SA+NSGA-II", "LR": 0.7699, "SD": 0.214}, {"s": "SA+NSGA-II", "LR": 0.78, "SD": 0.2036}, {"s": "SA+NSGA-II", "LR": 0.7828, "SD": 0.2023}, {"s": "SA+NSGA-II", "LR": 0.8045, "SD": 0.201}, {"s": "SA+NSGA-II", "LR": 0.8088, "SD": 0.2004}
          ]},
          "layer": [
            {"mark": {"type": "point", "filled": true, "size": 9, "opacity": 1},
             "encoding": {
               "x": {"field": "LR", "type": "quantitative", "scale": {"domain": [0.62, 0.82], "nice": false, "zero": false}, "axis": {"orient": "bottom", "title": "LR", "format": "~g", "tickCount": 30, "values": [0.62, 0.64, 0.66, 0.68, 0.7, 0.72, 0.74, 0.76, 0.78, 0.8, 0.82]}},
               "y": {"field": "SD", "type": "quantitative", "scale": {"domain": [0.15, 0.65], "nice": false, "zero": false}, "axis": {"orient": "left", "title": "SD", "format": "~g", "tickCount": 30, "values": [0.15, 0.2, 0.25, 0.3, 0.35, 0.4, 0.45, 0.5, 0.55, 0.6, 0.65]}},
               "color": {"field": "s", "type": "nominal", "scale": {"domain": ["ALNS+NSGA-II", "GRASP+NSGA-II", "EC+NSGA-II", "SA+NSGA-II"], "range": ["#000000", "#0000ff", "#ff0000", "#00ff00"]}, "legend": {"title": null, "orient": "none", "legendX": 379, "legendY": 5, "encode": {"symbols": {"update": {"strokeWidth": {"value": 0}, "opacity": {"value": 1}}}}}}
             }},
            {"mark": {"type": "line", "strokeWidth": 0.8, "strokeDash": [3, 2]},
             "encoding": {
               "x": {"field": "LR", "type": "quantitative"},
               "y": {"field": "SD", "type": "quantitative"},
               "color": {"field": "s", "type": "nominal", "scale": {"domain": ["ALNS+NSGA-II", "GRASP+NSGA-II", "EC+NSGA-II", "SA+NSGA-II"], "range": ["#000000", "#0000ff", "#ff0000", "#00ff00"]}, "legend": {"title": null, "orient": "none", "legendX": 379, "legendY": 5, "encode": {"symbols": {"update": {"strokeWidth": {"value": 0}, "opacity": {"value": 1}}}}}},
               "order": {"value": null}
             }}
          ]
        },
        {
          "layer": [
            {"data": {"values": [{}]}, "mark": {"type": "rect", "fill": "#ffffff", "stroke": "#b4b4b4", "strokeWidth": 0.8},
             "encoding": {"x": {"datum": 0}, "x2": {"datum": 50}, "y": {"datum": 0.18}, "y2": {"datum": 0.3}}},
            {"data": {"values": [
              {"s": "ALNS+NSGA-II", "it": 0, "HV": 0.1838}, {"s": "ALNS+NSGA-II", "it": 1, "HV": 0.2197}, {"s": "ALNS+NSGA-II", "it": 2, "HV": 0.2346}, {"s": "ALNS+NSGA-II", "it": 3, "HV": 0.2435}, {"s": "ALNS+NSGA-II", "it": 4, "HV": 0.2498}, {"s": "ALNS+NSGA-II", "it": 5, "HV": 0.2552}, {"s": "ALNS+NSGA-II", "it": 6, "HV": 0.2562}, {"s": "ALNS+NSGA-II", "it": 7, "HV": 0.261}, {"s": "ALNS+NSGA-II", "it": 8, "HV": 0.2657}, {"s": "ALNS+NSGA-II", "it": 9, "HV": 0.2657}, {"s": "ALNS+NSGA-II", "it": 10, "HV": 0.2673}, {"s": "ALNS+NSGA-II", "it": 11, "HV": 0.2695}, {"s": "ALNS+NSGA-II", "it": 13, "HV": 0.2705}, {"s": "ALNS+NSGA-II", "it": 15, "HV": 0.2721}, {"s": "ALNS+NSGA-II", "it": 16, "HV": 0.2752}, {"s": "ALNS+NSGA-II", "it": 17, "HV": 0.2759}, {"s": "ALNS+NSGA-II", "it": 18, "HV": 0.279}, {"s": "ALNS+NSGA-II", "it": 20, "HV": 0.28}, {"s": "ALNS+NSGA-II", "it": 25, "HV": 0.28}, {"s": "ALNS+NSGA-II", "it": 26, "HV": 0.2832}, {"s": "ALNS+NSGA-II", "it": 28, "HV": 0.2841}, {"s": "ALNS+NSGA-II", "it": 30, "HV": 0.2902},
              {"s": "GRASP+NSGA-II", "it": 0, "HV": 0.1838}, {"s": "GRASP+NSGA-II", "it": 1, "HV": 0.1863}, {"s": "GRASP+NSGA-II", "it": 3, "HV": 0.1886}, {"s": "GRASP+NSGA-II", "it": 7, "HV": 0.1911}, {"s": "GRASP+NSGA-II", "it": 15, "HV": 0.1921}, {"s": "GRASP+NSGA-II", "it": 25, "HV": 0.1927}, {"s": "GRASP+NSGA-II", "it": 50, "HV": 0.1927},
              {"s": "EC+NSGA-II", "it": 0, "HV": 0.1838}, {"s": "EC+NSGA-II", "it": 2, "HV": 0.1886}, {"s": "EC+NSGA-II", "it": 5, "HV": 0.1902}, {"s": "EC+NSGA-II", "it": 9, "HV": 0.1911}, {"s": "EC+NSGA-II", "it": 18, "HV": 0.1921}, {"s": "EC+NSGA-II", "it": 32, "HV": 0.1927}, {"s": "EC+NSGA-II", "it": 50, "HV": 0.1927},
              {"s": "SA+NSGA-II", "it": 0, "HV": 0.1838}, {"s": "SA+NSGA-II", "it": 1, "HV": 0.1854}, {"s": "SA+NSGA-II", "it": 5, "HV": 0.1895}, {"s": "SA+NSGA-II", "it": 10, "HV": 0.1902}, {"s": "SA+NSGA-II", "it": 15, "HV": 0.1914}, {"s": "SA+NSGA-II", "it": 32, "HV": 0.1924}, {"s": "SA+NSGA-II", "it": 50, "HV": 0.193}
            ]},
             "layer": [
               {"mark": {"type": "point", "filled": true, "size": 1.8, "opacity": 1},
                "encoding": {
                  "x": {"field": "it", "type": "quantitative", "scale": {"domain": [0, 50], "range": [59.7, 298.3], "nice": false, "zero": false}, "axis": {"orient": "bottom", "offset": -128.7, "title": "Iteration", "tickCount": 30, "values": [0, 5, 10, 15, 20, 25, 30, 35, 40, 45, 50], "labelFontSize": 5.2, "titleFontSize": 5, "titlePadding": 1, "gridColor": "#d6d6d6", "zindex": 1}},
                  "y": {"field": "HV", "type": "quantitative", "scale": {"domain": [0.18, 0.3], "range": [129.3, 3.3], "nice": false, "zero": false}, "axis": {"orient": "left", "offset": -59.7, "title": "HV", "format": "~g", "tickCount": 30, "values": [0.18, 0.2, 0.22, 0.24, 0.26, 0.28, 0.3], "labelFontSize": 5.2, "titleFontSize": 5, "titlePadding": 1, "gridColor": "#d6d6d6", "zindex": 1}},
                  "color": {"field": "s", "type": "nominal", "scale": {"domain": ["ALNS+NSGA-II", "GRASP+NSGA-II", "EC+NSGA-II", "SA+NSGA-II"], "range": ["#000000", "#0000ff", "#ff0000", "#00ff00"]}, "legend": {"title": null, "orient": "none", "legendX": 230.7, "legendY": 10, "labelFontSize": 5.3, "symbolSize": 36, "labelOffset": 4, "rowPadding": 1, "symbolType": "M-1.6,-0.07H-0.9V0.07H-1.6ZM-0.6,-0.07H-0.3V0.07H-0.6ZM0.3,-0.07H0.6V0.07H0.3ZM0.9,-0.07H1.6V0.07H0.9ZM-0.2,0A0.2,0.2,0,1,1,0.2,0A0.2,0.2,0,1,1,-0.2,0Z", "encode": {"symbols": {"update": {"strokeWidth": {"value": 0}, "opacity": {"value": 1}}}}}}
                }},
               {"mark": {"type": "line", "strokeWidth": 1.3, "strokeDash": [1.3, 3.5]},
                "encoding": {
                  "x": {"field": "it", "type": "quantitative"},
                  "y": {"field": "HV", "type": "quantitative"},
                  "color": {"field": "s", "type": "nominal", "scale": {"domain": ["ALNS+NSGA-II", "GRASP+NSGA-II", "EC+NSGA-II", "SA+NSGA-II"], "range": ["#000000", "#0000ff", "#ff0000", "#00ff00"]}, "legend": {"title": null, "orient": "none", "legendX": 230.7, "legendY": 10, "labelFontSize": 5.3, "symbolSize": 36, "labelOffset": 4, "rowPadding": 1, "symbolType": "M-1.6,-0.07H-0.9V0.07H-1.6ZM-0.6,-0.07H-0.3V0.07H-0.6ZM0.3,-0.07H0.6V0.07H0.3ZM0.9,-0.07H1.6V0.07H0.9ZM-0.2,0A0.2,0.2,0,1,1,0.2,0A0.2,0.2,0,1,1,-0.2,0Z", "encode": {"symbols": {"update": {"strokeWidth": {"value": 0}, "opacity": {"value": 1}}}}}}
                }}
             ]}
          ]
        }
      ],
      "resolve": {"scale": {"x": "independent", "y": "independent", "color": "independent"}, "axis": {"x": "independent", "y": "independent"}, "legend": {"color": "independent"}}
    }
  ]
}
